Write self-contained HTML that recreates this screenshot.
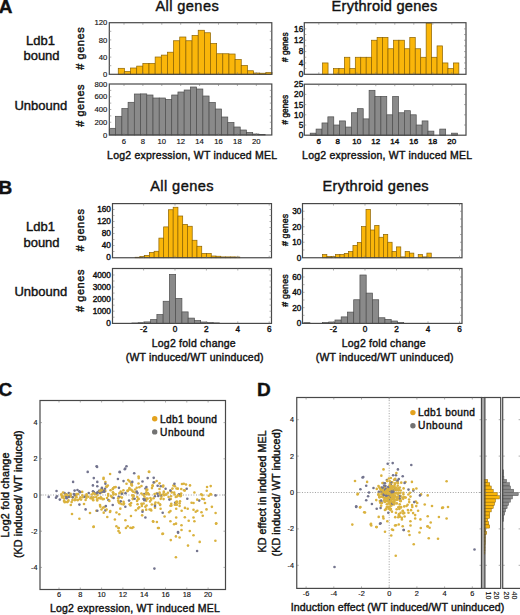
<!DOCTYPE html>
<html><head><meta charset="utf-8"><style>
html,body{margin:0;padding:0;background:#fff;}
body{width:520px;height:615px;overflow:hidden;}
svg{display:block;font-family:"Liberation Sans",sans-serif;}
text{fill:#111;stroke:#111;stroke-width:.4px;}
text.s{stroke-width:.15px;}
</style></head><body>
<svg width="520" height="615" viewBox="0 0 520 615">
<rect x="0" y="0" width="520" height="615" fill="#fff"/>
<text x="-1.2" y="12.6" font-size="19" font-weight="bold">A</text>
<text x="155.4" y="11" font-size="14.6" textLength="63.3" lengthAdjust="spacing">All genes</text>
<text x="331.6" y="11.1" font-size="14.6" textLength="105.6" lengthAdjust="spacing">Erythroid genes</text>
<text x="40.5" y="44.5" font-size="13" text-anchor="middle">Ldb1</text>
<text x="41.5" y="60" font-size="13" text-anchor="middle">bound</text>
<text x="40.8" y="109.5" font-size="13" text-anchor="middle">Unbound</text>
<rect x="118.25" y="68.3" width="6.15" height="6" fill="#fab60a" stroke="#8a6200" stroke-width="0.7"/>
<rect x="124.4" y="71.5" width="6.15" height="2.8" fill="#fab60a" stroke="#8a6200" stroke-width="0.7"/>
<rect x="130.55" y="68" width="6.15" height="6.3" fill="#fab60a" stroke="#8a6200" stroke-width="0.7"/>
<rect x="136.7" y="66.1" width="6.15" height="8.2" fill="#fab60a" stroke="#8a6200" stroke-width="0.7"/>
<rect x="142.85" y="63.5" width="6.15" height="10.8" fill="#fab60a" stroke="#8a6200" stroke-width="0.7"/>
<rect x="149" y="63.5" width="6.15" height="10.8" fill="#fab60a" stroke="#8a6200" stroke-width="0.7"/>
<rect x="155.15" y="57" width="6.15" height="17.3" fill="#fab60a" stroke="#8a6200" stroke-width="0.7"/>
<rect x="161.3" y="55.1" width="6.15" height="19.2" fill="#fab60a" stroke="#8a6200" stroke-width="0.7"/>
<rect x="167.45" y="52.2" width="6.15" height="22.1" fill="#fab60a" stroke="#8a6200" stroke-width="0.7"/>
<rect x="173.6" y="40.75" width="6.15" height="33.55" fill="#fab60a" stroke="#8a6200" stroke-width="0.7"/>
<rect x="179.75" y="37" width="6.15" height="37.3" fill="#fab60a" stroke="#8a6200" stroke-width="0.7"/>
<rect x="185.9" y="40.75" width="6.15" height="33.55" fill="#fab60a" stroke="#8a6200" stroke-width="0.7"/>
<rect x="192.05" y="35.5" width="6.15" height="38.8" fill="#fab60a" stroke="#8a6200" stroke-width="0.7"/>
<rect x="198.2" y="30.25" width="6.15" height="44.05" fill="#fab60a" stroke="#8a6200" stroke-width="0.7"/>
<rect x="204.35" y="32.75" width="6.15" height="41.55" fill="#fab60a" stroke="#8a6200" stroke-width="0.7"/>
<rect x="210.5" y="43.5" width="6.15" height="30.8" fill="#fab60a" stroke="#8a6200" stroke-width="0.7"/>
<rect x="216.65" y="53.75" width="6.15" height="20.55" fill="#fab60a" stroke="#8a6200" stroke-width="0.7"/>
<rect x="222.8" y="53.75" width="6.15" height="20.55" fill="#fab60a" stroke="#8a6200" stroke-width="0.7"/>
<rect x="228.95" y="54" width="6.15" height="20.3" fill="#fab60a" stroke="#8a6200" stroke-width="0.7"/>
<rect x="235.1" y="59.5" width="6.15" height="14.8" fill="#fab60a" stroke="#8a6200" stroke-width="0.7"/>
<rect x="241.25" y="65.5" width="6.15" height="8.8" fill="#fab60a" stroke="#8a6200" stroke-width="0.7"/>
<rect x="247.4" y="70.75" width="6.15" height="3.55" fill="#fab60a" stroke="#8a6200" stroke-width="0.7"/>
<rect x="253.55" y="73" width="6.15" height="1.3" fill="#fab60a" stroke="#8a6200" stroke-width="0.7"/>
<rect x="259.7" y="73.2" width="6.15" height="1.1" fill="#fab60a" stroke="#8a6200" stroke-width="0.7"/>
<rect x="265.85" y="72.6" width="6.15" height="1.7" fill="#fab60a" stroke="#8a6200" stroke-width="0.7"/>
<rect x="109.3" y="22.7" width="162.5" height="51.6" fill="none" stroke="#484848" stroke-width="1.2"/>
<line x1="124" y1="22.7" x2="124" y2="24.7" stroke="#777" stroke-width="0.6"/>
<line x1="124" y1="74.3" x2="124" y2="72.3" stroke="#777" stroke-width="0.6"/>
<line x1="142.9" y1="22.7" x2="142.9" y2="24.7" stroke="#777" stroke-width="0.6"/>
<line x1="142.9" y1="74.3" x2="142.9" y2="72.3" stroke="#777" stroke-width="0.6"/>
<line x1="161.8" y1="22.7" x2="161.8" y2="24.7" stroke="#777" stroke-width="0.6"/>
<line x1="161.8" y1="74.3" x2="161.8" y2="72.3" stroke="#777" stroke-width="0.6"/>
<line x1="180.7" y1="22.7" x2="180.7" y2="24.7" stroke="#777" stroke-width="0.6"/>
<line x1="180.7" y1="74.3" x2="180.7" y2="72.3" stroke="#777" stroke-width="0.6"/>
<line x1="199.6" y1="22.7" x2="199.6" y2="24.7" stroke="#777" stroke-width="0.6"/>
<line x1="199.6" y1="74.3" x2="199.6" y2="72.3" stroke="#777" stroke-width="0.6"/>
<line x1="218.5" y1="22.7" x2="218.5" y2="24.7" stroke="#777" stroke-width="0.6"/>
<line x1="218.5" y1="74.3" x2="218.5" y2="72.3" stroke="#777" stroke-width="0.6"/>
<line x1="237.4" y1="22.7" x2="237.4" y2="24.7" stroke="#777" stroke-width="0.6"/>
<line x1="237.4" y1="74.3" x2="237.4" y2="72.3" stroke="#777" stroke-width="0.6"/>
<line x1="256.3" y1="22.7" x2="256.3" y2="24.7" stroke="#777" stroke-width="0.6"/>
<line x1="256.3" y1="74.3" x2="256.3" y2="72.3" stroke="#777" stroke-width="0.6"/>
<line x1="109.3" y1="65.7" x2="111.3" y2="65.7" stroke="#777" stroke-width="0.6"/>
<line x1="271.8" y1="65.7" x2="269.8" y2="65.7" stroke="#777" stroke-width="0.6"/>
<line x1="109.3" y1="57.1" x2="111.3" y2="57.1" stroke="#777" stroke-width="0.6"/>
<line x1="271.8" y1="57.1" x2="269.8" y2="57.1" stroke="#777" stroke-width="0.6"/>
<line x1="109.3" y1="48.5" x2="111.3" y2="48.5" stroke="#777" stroke-width="0.6"/>
<line x1="271.8" y1="48.5" x2="269.8" y2="48.5" stroke="#777" stroke-width="0.6"/>
<line x1="109.3" y1="39.9" x2="111.3" y2="39.9" stroke="#777" stroke-width="0.6"/>
<line x1="271.8" y1="39.9" x2="269.8" y2="39.9" stroke="#777" stroke-width="0.6"/>
<line x1="109.3" y1="31.3" x2="111.3" y2="31.3" stroke="#777" stroke-width="0.6"/>
<line x1="271.8" y1="31.3" x2="269.8" y2="31.3" stroke="#777" stroke-width="0.6"/>
<text x="107.3" y="77" font-size="7.7" text-anchor="end" class="s">0</text>
<text x="107.3" y="59.8" font-size="7.7" text-anchor="end" class="s">40</text>
<text x="107.3" y="42.6" font-size="7.7" text-anchor="end" class="s">80</text>
<text x="107.3" y="25.4" font-size="7.7" text-anchor="end" class="s">120</text>
<text x="83.8" y="48.55" font-size="11" text-anchor="middle" textLength="42.4" lengthAdjust="spacing" transform="rotate(-90 83.8 48.55)"># genes</text>
<rect x="109.4" y="128.3" width="6.23" height="6.7" fill="#8a8a8a" stroke="#4e4e4e" stroke-width="0.7"/>
<rect x="115.63" y="116.3" width="6.23" height="18.7" fill="#8a8a8a" stroke="#4e4e4e" stroke-width="0.7"/>
<rect x="121.86" y="108.6" width="6.23" height="26.4" fill="#8a8a8a" stroke="#4e4e4e" stroke-width="0.7"/>
<rect x="128.09" y="102.3" width="6.23" height="32.7" fill="#8a8a8a" stroke="#4e4e4e" stroke-width="0.7"/>
<rect x="134.32" y="94" width="6.23" height="41" fill="#8a8a8a" stroke="#4e4e4e" stroke-width="0.7"/>
<rect x="140.55" y="93.9" width="6.23" height="41.1" fill="#8a8a8a" stroke="#4e4e4e" stroke-width="0.7"/>
<rect x="146.78" y="95" width="6.23" height="40" fill="#8a8a8a" stroke="#4e4e4e" stroke-width="0.7"/>
<rect x="153.01" y="98" width="6.23" height="37" fill="#8a8a8a" stroke="#4e4e4e" stroke-width="0.7"/>
<rect x="159.24" y="98" width="6.23" height="37" fill="#8a8a8a" stroke="#4e4e4e" stroke-width="0.7"/>
<rect x="165.47" y="99.5" width="6.23" height="35.5" fill="#8a8a8a" stroke="#4e4e4e" stroke-width="0.7"/>
<rect x="171.7" y="95" width="6.23" height="40" fill="#8a8a8a" stroke="#4e4e4e" stroke-width="0.7"/>
<rect x="177.93" y="92" width="6.23" height="43" fill="#8a8a8a" stroke="#4e4e4e" stroke-width="0.7"/>
<rect x="184.16" y="90" width="6.23" height="45" fill="#8a8a8a" stroke="#4e4e4e" stroke-width="0.7"/>
<rect x="190.39" y="87" width="6.23" height="48" fill="#8a8a8a" stroke="#4e4e4e" stroke-width="0.7"/>
<rect x="196.62" y="89" width="6.23" height="46" fill="#8a8a8a" stroke="#4e4e4e" stroke-width="0.7"/>
<rect x="202.85" y="96" width="6.23" height="39" fill="#8a8a8a" stroke="#4e4e4e" stroke-width="0.7"/>
<rect x="209.08" y="102.5" width="6.23" height="32.5" fill="#8a8a8a" stroke="#4e4e4e" stroke-width="0.7"/>
<rect x="215.31" y="109" width="6.23" height="26" fill="#8a8a8a" stroke="#4e4e4e" stroke-width="0.7"/>
<rect x="221.54" y="117" width="6.23" height="18" fill="#8a8a8a" stroke="#4e4e4e" stroke-width="0.7"/>
<rect x="227.77" y="122.5" width="6.23" height="12.5" fill="#8a8a8a" stroke="#4e4e4e" stroke-width="0.7"/>
<rect x="234" y="127" width="6.23" height="8" fill="#8a8a8a" stroke="#4e4e4e" stroke-width="0.7"/>
<rect x="240.23" y="130" width="6.23" height="5" fill="#8a8a8a" stroke="#4e4e4e" stroke-width="0.7"/>
<rect x="246.46" y="132.5" width="6.23" height="2.5" fill="#8a8a8a" stroke="#4e4e4e" stroke-width="0.7"/>
<rect x="252.69" y="134" width="6.23" height="1" fill="#8a8a8a" stroke="#4e4e4e" stroke-width="0.7"/>
<rect x="258.92" y="134.5" width="6.23" height="0.5" fill="#8a8a8a" stroke="#4e4e4e" stroke-width="0.7"/>
<rect x="109.3" y="84" width="162.5" height="51" fill="none" stroke="#484848" stroke-width="1.2"/>
<line x1="124" y1="84" x2="124" y2="86" stroke="#777" stroke-width="0.6"/>
<line x1="124" y1="135" x2="124" y2="133" stroke="#777" stroke-width="0.6"/>
<line x1="142.9" y1="84" x2="142.9" y2="86" stroke="#777" stroke-width="0.6"/>
<line x1="142.9" y1="135" x2="142.9" y2="133" stroke="#777" stroke-width="0.6"/>
<line x1="161.8" y1="84" x2="161.8" y2="86" stroke="#777" stroke-width="0.6"/>
<line x1="161.8" y1="135" x2="161.8" y2="133" stroke="#777" stroke-width="0.6"/>
<line x1="180.7" y1="84" x2="180.7" y2="86" stroke="#777" stroke-width="0.6"/>
<line x1="180.7" y1="135" x2="180.7" y2="133" stroke="#777" stroke-width="0.6"/>
<line x1="199.6" y1="84" x2="199.6" y2="86" stroke="#777" stroke-width="0.6"/>
<line x1="199.6" y1="135" x2="199.6" y2="133" stroke="#777" stroke-width="0.6"/>
<line x1="218.5" y1="84" x2="218.5" y2="86" stroke="#777" stroke-width="0.6"/>
<line x1="218.5" y1="135" x2="218.5" y2="133" stroke="#777" stroke-width="0.6"/>
<line x1="237.4" y1="84" x2="237.4" y2="86" stroke="#777" stroke-width="0.6"/>
<line x1="237.4" y1="135" x2="237.4" y2="133" stroke="#777" stroke-width="0.6"/>
<line x1="256.3" y1="84" x2="256.3" y2="86" stroke="#777" stroke-width="0.6"/>
<line x1="256.3" y1="135" x2="256.3" y2="133" stroke="#777" stroke-width="0.6"/>
<line x1="109.3" y1="128.62" x2="111.3" y2="128.62" stroke="#777" stroke-width="0.6"/>
<line x1="271.8" y1="128.62" x2="269.8" y2="128.62" stroke="#777" stroke-width="0.6"/>
<line x1="109.3" y1="122.25" x2="111.3" y2="122.25" stroke="#777" stroke-width="0.6"/>
<line x1="271.8" y1="122.25" x2="269.8" y2="122.25" stroke="#777" stroke-width="0.6"/>
<line x1="109.3" y1="115.88" x2="111.3" y2="115.88" stroke="#777" stroke-width="0.6"/>
<line x1="271.8" y1="115.88" x2="269.8" y2="115.88" stroke="#777" stroke-width="0.6"/>
<line x1="109.3" y1="109.5" x2="111.3" y2="109.5" stroke="#777" stroke-width="0.6"/>
<line x1="271.8" y1="109.5" x2="269.8" y2="109.5" stroke="#777" stroke-width="0.6"/>
<line x1="109.3" y1="103.12" x2="111.3" y2="103.12" stroke="#777" stroke-width="0.6"/>
<line x1="271.8" y1="103.12" x2="269.8" y2="103.12" stroke="#777" stroke-width="0.6"/>
<line x1="109.3" y1="96.75" x2="111.3" y2="96.75" stroke="#777" stroke-width="0.6"/>
<line x1="271.8" y1="96.75" x2="269.8" y2="96.75" stroke="#777" stroke-width="0.6"/>
<line x1="109.3" y1="90.38" x2="111.3" y2="90.38" stroke="#777" stroke-width="0.6"/>
<line x1="271.8" y1="90.38" x2="269.8" y2="90.38" stroke="#777" stroke-width="0.6"/>
<text x="107.3" y="137.7" font-size="7.7" text-anchor="end" class="s">0</text>
<text x="107.3" y="124.95" font-size="7.7" text-anchor="end" class="s">200</text>
<text x="107.3" y="112.2" font-size="7.7" text-anchor="end" class="s">400</text>
<text x="107.3" y="99.45" font-size="7.7" text-anchor="end" class="s">600</text>
<text x="107.3" y="86.7" font-size="7.7" text-anchor="end" class="s">800</text>
<text x="83.8" y="105.6" font-size="11" text-anchor="middle" textLength="42.4" lengthAdjust="spacing" transform="rotate(-90 83.8 105.6)"># genes</text>
<text x="124" y="143.7" font-size="7.7" text-anchor="middle" class="s">6</text>
<text x="142.9" y="143.7" font-size="7.7" text-anchor="middle" class="s">8</text>
<text x="161.8" y="143.7" font-size="7.7" text-anchor="middle" class="s">10</text>
<text x="180.7" y="143.7" font-size="7.7" text-anchor="middle" class="s">12</text>
<text x="199.6" y="143.7" font-size="7.7" text-anchor="middle" class="s">14</text>
<text x="218.5" y="143.7" font-size="7.7" text-anchor="middle" class="s">16</text>
<text x="237.4" y="143.7" font-size="7.7" text-anchor="middle" class="s">18</text>
<text x="256.3" y="143.7" font-size="7.7" text-anchor="middle" class="s">20</text>
<text x="107.1" y="158.5" font-size="10.5" textLength="170" lengthAdjust="spacing">Log2 expression, WT induced MEL</text>
<rect x="322.6" y="62.94" width="5.45" height="11.36" fill="#fab60a" stroke="#8a6200" stroke-width="0.7"/>
<rect x="333.5" y="68.62" width="5.45" height="5.68" fill="#fab60a" stroke="#8a6200" stroke-width="0.7"/>
<rect x="338.95" y="68.62" width="5.45" height="5.68" fill="#fab60a" stroke="#8a6200" stroke-width="0.7"/>
<rect x="344.4" y="57.26" width="5.45" height="17.04" fill="#fab60a" stroke="#8a6200" stroke-width="0.7"/>
<rect x="349.85" y="68.62" width="5.45" height="5.68" fill="#fab60a" stroke="#8a6200" stroke-width="0.7"/>
<rect x="355.3" y="57.26" width="5.45" height="17.04" fill="#fab60a" stroke="#8a6200" stroke-width="0.7"/>
<rect x="360.75" y="57.26" width="5.45" height="17.04" fill="#fab60a" stroke="#8a6200" stroke-width="0.7"/>
<rect x="366.2" y="57.26" width="5.45" height="17.04" fill="#fab60a" stroke="#8a6200" stroke-width="0.7"/>
<rect x="371.65" y="40.22" width="5.45" height="34.08" fill="#fab60a" stroke="#8a6200" stroke-width="0.7"/>
<rect x="377.1" y="37.38" width="5.45" height="36.92" fill="#fab60a" stroke="#8a6200" stroke-width="0.7"/>
<rect x="382.55" y="37.38" width="5.45" height="36.92" fill="#fab60a" stroke="#8a6200" stroke-width="0.7"/>
<rect x="388" y="48.74" width="5.45" height="25.56" fill="#fab60a" stroke="#8a6200" stroke-width="0.7"/>
<rect x="393.45" y="40.22" width="5.45" height="34.08" fill="#fab60a" stroke="#8a6200" stroke-width="0.7"/>
<rect x="398.9" y="40.22" width="5.45" height="34.08" fill="#fab60a" stroke="#8a6200" stroke-width="0.7"/>
<rect x="404.35" y="48.74" width="5.45" height="25.56" fill="#fab60a" stroke="#8a6200" stroke-width="0.7"/>
<rect x="409.8" y="37.38" width="5.45" height="36.92" fill="#fab60a" stroke="#8a6200" stroke-width="0.7"/>
<rect x="415.25" y="48.74" width="5.45" height="25.56" fill="#fab60a" stroke="#8a6200" stroke-width="0.7"/>
<rect x="420.7" y="57.26" width="5.45" height="17.04" fill="#fab60a" stroke="#8a6200" stroke-width="0.7"/>
<rect x="426.15" y="23.18" width="5.45" height="51.12" fill="#fab60a" stroke="#8a6200" stroke-width="0.7"/>
<rect x="431.6" y="57.26" width="5.45" height="17.04" fill="#fab60a" stroke="#8a6200" stroke-width="0.7"/>
<rect x="437.05" y="45.9" width="5.45" height="28.4" fill="#fab60a" stroke="#8a6200" stroke-width="0.7"/>
<rect x="442.5" y="62.94" width="5.45" height="11.36" fill="#fab60a" stroke="#8a6200" stroke-width="0.7"/>
<rect x="447.95" y="68.62" width="5.45" height="5.68" fill="#fab60a" stroke="#8a6200" stroke-width="0.7"/>
<rect x="453.4" y="62.94" width="5.45" height="11.36" fill="#fab60a" stroke="#8a6200" stroke-width="0.7"/>
<rect x="304.3" y="22.7" width="161.7" height="51.6" fill="none" stroke="#484848" stroke-width="1.2"/>
<line x1="318.8" y1="22.7" x2="318.8" y2="24.7" stroke="#777" stroke-width="0.6"/>
<line x1="318.8" y1="74.3" x2="318.8" y2="72.3" stroke="#777" stroke-width="0.6"/>
<line x1="337.8" y1="22.7" x2="337.8" y2="24.7" stroke="#777" stroke-width="0.6"/>
<line x1="337.8" y1="74.3" x2="337.8" y2="72.3" stroke="#777" stroke-width="0.6"/>
<line x1="356.8" y1="22.7" x2="356.8" y2="24.7" stroke="#777" stroke-width="0.6"/>
<line x1="356.8" y1="74.3" x2="356.8" y2="72.3" stroke="#777" stroke-width="0.6"/>
<line x1="375.8" y1="22.7" x2="375.8" y2="24.7" stroke="#777" stroke-width="0.6"/>
<line x1="375.8" y1="74.3" x2="375.8" y2="72.3" stroke="#777" stroke-width="0.6"/>
<line x1="394.8" y1="22.7" x2="394.8" y2="24.7" stroke="#777" stroke-width="0.6"/>
<line x1="394.8" y1="74.3" x2="394.8" y2="72.3" stroke="#777" stroke-width="0.6"/>
<line x1="413.8" y1="22.7" x2="413.8" y2="24.7" stroke="#777" stroke-width="0.6"/>
<line x1="413.8" y1="74.3" x2="413.8" y2="72.3" stroke="#777" stroke-width="0.6"/>
<line x1="432.8" y1="22.7" x2="432.8" y2="24.7" stroke="#777" stroke-width="0.6"/>
<line x1="432.8" y1="74.3" x2="432.8" y2="72.3" stroke="#777" stroke-width="0.6"/>
<line x1="451.8" y1="22.7" x2="451.8" y2="24.7" stroke="#777" stroke-width="0.6"/>
<line x1="451.8" y1="74.3" x2="451.8" y2="72.3" stroke="#777" stroke-width="0.6"/>
<line x1="304.3" y1="68.62" x2="306.3" y2="68.62" stroke="#777" stroke-width="0.6"/>
<line x1="466" y1="68.62" x2="464" y2="68.62" stroke="#777" stroke-width="0.6"/>
<line x1="304.3" y1="62.94" x2="306.3" y2="62.94" stroke="#777" stroke-width="0.6"/>
<line x1="466" y1="62.94" x2="464" y2="62.94" stroke="#777" stroke-width="0.6"/>
<line x1="304.3" y1="57.26" x2="306.3" y2="57.26" stroke="#777" stroke-width="0.6"/>
<line x1="466" y1="57.26" x2="464" y2="57.26" stroke="#777" stroke-width="0.6"/>
<line x1="304.3" y1="51.58" x2="306.3" y2="51.58" stroke="#777" stroke-width="0.6"/>
<line x1="466" y1="51.58" x2="464" y2="51.58" stroke="#777" stroke-width="0.6"/>
<line x1="304.3" y1="45.9" x2="306.3" y2="45.9" stroke="#777" stroke-width="0.6"/>
<line x1="466" y1="45.9" x2="464" y2="45.9" stroke="#777" stroke-width="0.6"/>
<line x1="304.3" y1="40.22" x2="306.3" y2="40.22" stroke="#777" stroke-width="0.6"/>
<line x1="466" y1="40.22" x2="464" y2="40.22" stroke="#777" stroke-width="0.6"/>
<line x1="304.3" y1="34.54" x2="306.3" y2="34.54" stroke="#777" stroke-width="0.6"/>
<line x1="466" y1="34.54" x2="464" y2="34.54" stroke="#777" stroke-width="0.6"/>
<line x1="304.3" y1="28.86" x2="306.3" y2="28.86" stroke="#777" stroke-width="0.6"/>
<line x1="466" y1="28.86" x2="464" y2="28.86" stroke="#777" stroke-width="0.6"/>
<text x="303.2" y="77.2" font-size="8.2" text-anchor="end">0</text>
<text x="303.2" y="65.84" font-size="8.2" text-anchor="end">4</text>
<text x="303.2" y="54.48" font-size="8.2" text-anchor="end">8</text>
<text x="303.2" y="43.12" font-size="8.2" text-anchor="end">12</text>
<text x="303.2" y="31.76" font-size="8.2" text-anchor="end">16</text>
<text x="288" y="47.2" font-size="8.2" text-anchor="middle" textLength="29.6" lengthAdjust="spacing" transform="rotate(-90 288 47.2)"># genes</text>
<rect x="310.2" y="133.16" width="5.89" height="2.04" fill="#8a8a8a" stroke="#4e4e4e" stroke-width="0.7"/>
<rect x="316.09" y="129.08" width="5.89" height="6.12" fill="#8a8a8a" stroke="#4e4e4e" stroke-width="0.7"/>
<rect x="321.98" y="122.96" width="5.89" height="12.24" fill="#8a8a8a" stroke="#4e4e4e" stroke-width="0.7"/>
<rect x="327.87" y="116.84" width="5.89" height="18.36" fill="#8a8a8a" stroke="#4e4e4e" stroke-width="0.7"/>
<rect x="333.76" y="125" width="5.89" height="10.2" fill="#8a8a8a" stroke="#4e4e4e" stroke-width="0.7"/>
<rect x="339.65" y="120.92" width="5.89" height="14.28" fill="#8a8a8a" stroke="#4e4e4e" stroke-width="0.7"/>
<rect x="345.54" y="127.04" width="5.89" height="8.16" fill="#8a8a8a" stroke="#4e4e4e" stroke-width="0.7"/>
<rect x="351.43" y="112.76" width="5.89" height="22.44" fill="#8a8a8a" stroke="#4e4e4e" stroke-width="0.7"/>
<rect x="357.32" y="108.68" width="5.89" height="26.52" fill="#8a8a8a" stroke="#4e4e4e" stroke-width="0.7"/>
<rect x="363.21" y="118.88" width="5.89" height="16.32" fill="#8a8a8a" stroke="#4e4e4e" stroke-width="0.7"/>
<rect x="369.1" y="90.32" width="5.89" height="44.88" fill="#8a8a8a" stroke="#4e4e4e" stroke-width="0.7"/>
<rect x="374.99" y="96.44" width="5.89" height="38.76" fill="#8a8a8a" stroke="#4e4e4e" stroke-width="0.7"/>
<rect x="380.88" y="96.44" width="5.89" height="38.76" fill="#8a8a8a" stroke="#4e4e4e" stroke-width="0.7"/>
<rect x="386.77" y="114.8" width="5.89" height="20.4" fill="#8a8a8a" stroke="#4e4e4e" stroke-width="0.7"/>
<rect x="392.66" y="96.44" width="5.89" height="38.76" fill="#8a8a8a" stroke="#4e4e4e" stroke-width="0.7"/>
<rect x="398.55" y="112.76" width="5.89" height="22.44" fill="#8a8a8a" stroke="#4e4e4e" stroke-width="0.7"/>
<rect x="404.44" y="110.72" width="5.89" height="24.48" fill="#8a8a8a" stroke="#4e4e4e" stroke-width="0.7"/>
<rect x="410.33" y="114.8" width="5.89" height="20.4" fill="#8a8a8a" stroke="#4e4e4e" stroke-width="0.7"/>
<rect x="416.22" y="125" width="5.89" height="10.2" fill="#8a8a8a" stroke="#4e4e4e" stroke-width="0.7"/>
<rect x="422.11" y="120.92" width="5.89" height="14.28" fill="#8a8a8a" stroke="#4e4e4e" stroke-width="0.7"/>
<rect x="428" y="131.12" width="5.89" height="4.08" fill="#8a8a8a" stroke="#4e4e4e" stroke-width="0.7"/>
<rect x="439.78" y="129.08" width="5.89" height="6.12" fill="#8a8a8a" stroke="#4e4e4e" stroke-width="0.7"/>
<rect x="451.56" y="133.16" width="5.89" height="2.04" fill="#8a8a8a" stroke="#4e4e4e" stroke-width="0.7"/>
<rect x="304.3" y="84.2" width="161.7" height="51" fill="none" stroke="#484848" stroke-width="1.2"/>
<line x1="318.8" y1="84.2" x2="318.8" y2="86.2" stroke="#777" stroke-width="0.6"/>
<line x1="318.8" y1="135.2" x2="318.8" y2="133.2" stroke="#777" stroke-width="0.6"/>
<line x1="337.8" y1="84.2" x2="337.8" y2="86.2" stroke="#777" stroke-width="0.6"/>
<line x1="337.8" y1="135.2" x2="337.8" y2="133.2" stroke="#777" stroke-width="0.6"/>
<line x1="356.8" y1="84.2" x2="356.8" y2="86.2" stroke="#777" stroke-width="0.6"/>
<line x1="356.8" y1="135.2" x2="356.8" y2="133.2" stroke="#777" stroke-width="0.6"/>
<line x1="375.8" y1="84.2" x2="375.8" y2="86.2" stroke="#777" stroke-width="0.6"/>
<line x1="375.8" y1="135.2" x2="375.8" y2="133.2" stroke="#777" stroke-width="0.6"/>
<line x1="394.8" y1="84.2" x2="394.8" y2="86.2" stroke="#777" stroke-width="0.6"/>
<line x1="394.8" y1="135.2" x2="394.8" y2="133.2" stroke="#777" stroke-width="0.6"/>
<line x1="413.8" y1="84.2" x2="413.8" y2="86.2" stroke="#777" stroke-width="0.6"/>
<line x1="413.8" y1="135.2" x2="413.8" y2="133.2" stroke="#777" stroke-width="0.6"/>
<line x1="432.8" y1="84.2" x2="432.8" y2="86.2" stroke="#777" stroke-width="0.6"/>
<line x1="432.8" y1="135.2" x2="432.8" y2="133.2" stroke="#777" stroke-width="0.6"/>
<line x1="451.8" y1="84.2" x2="451.8" y2="86.2" stroke="#777" stroke-width="0.6"/>
<line x1="451.8" y1="135.2" x2="451.8" y2="133.2" stroke="#777" stroke-width="0.6"/>
<line x1="304.3" y1="125" x2="306.3" y2="125" stroke="#777" stroke-width="0.6"/>
<line x1="466" y1="125" x2="464" y2="125" stroke="#777" stroke-width="0.6"/>
<line x1="304.3" y1="114.8" x2="306.3" y2="114.8" stroke="#777" stroke-width="0.6"/>
<line x1="466" y1="114.8" x2="464" y2="114.8" stroke="#777" stroke-width="0.6"/>
<line x1="304.3" y1="104.6" x2="306.3" y2="104.6" stroke="#777" stroke-width="0.6"/>
<line x1="466" y1="104.6" x2="464" y2="104.6" stroke="#777" stroke-width="0.6"/>
<line x1="304.3" y1="94.4" x2="306.3" y2="94.4" stroke="#777" stroke-width="0.6"/>
<line x1="466" y1="94.4" x2="464" y2="94.4" stroke="#777" stroke-width="0.6"/>
<text x="303.2" y="138.1" font-size="8.2" text-anchor="end">0</text>
<text x="303.2" y="127.9" font-size="8.2" text-anchor="end">5</text>
<text x="303.2" y="117.7" font-size="8.2" text-anchor="end">10</text>
<text x="303.2" y="107.5" font-size="8.2" text-anchor="end">15</text>
<text x="303.2" y="97.3" font-size="8.2" text-anchor="end">20</text>
<text x="303.2" y="87.1" font-size="8.2" text-anchor="end">25</text>
<text x="288" y="109.75" font-size="8.2" text-anchor="middle" textLength="29.6" lengthAdjust="spacing" transform="rotate(-90 288 109.75)"># genes</text>
<text x="318.8" y="143.7" font-size="8" text-anchor="middle">6</text>
<text x="337.8" y="143.7" font-size="8" text-anchor="middle">8</text>
<text x="356.8" y="143.7" font-size="8" text-anchor="middle">10</text>
<text x="375.8" y="143.7" font-size="8" text-anchor="middle">12</text>
<text x="394.8" y="143.7" font-size="8" text-anchor="middle">14</text>
<text x="413.8" y="143.7" font-size="8" text-anchor="middle">16</text>
<text x="432.8" y="143.7" font-size="8" text-anchor="middle">18</text>
<text x="451.8" y="143.7" font-size="8" text-anchor="middle">20</text>
<text x="302.1" y="158.5" font-size="10.5" textLength="170" lengthAdjust="spacing">Log2 expression, WT induced MEL</text>
<text x="-1.6" y="194.4" font-size="19" font-weight="bold">B</text>
<text x="150.2" y="191.4" font-size="14.6" textLength="63.3" lengthAdjust="spacing">All genes</text>
<text x="322.6" y="191.4" font-size="14.6" textLength="106" lengthAdjust="spacing">Erythroid genes</text>
<text x="40.5" y="231.2" font-size="13" text-anchor="middle">Ldb1</text>
<text x="41.5" y="246.8" font-size="13" text-anchor="middle">bound</text>
<text x="40.8" y="296.25" font-size="13" text-anchor="middle">Unbound</text>
<rect x="135.1" y="257.25" width="4.76" height="0.5" fill="#fab60a" stroke="#8a6200" stroke-width="0.7"/>
<rect x="139.86" y="256.5" width="4.76" height="1.25" fill="#fab60a" stroke="#8a6200" stroke-width="0.7"/>
<rect x="144.62" y="255.4" width="4.76" height="2.35" fill="#fab60a" stroke="#8a6200" stroke-width="0.7"/>
<rect x="149.38" y="252.5" width="4.76" height="5.25" fill="#fab60a" stroke="#8a6200" stroke-width="0.7"/>
<rect x="154.14" y="251.25" width="4.76" height="6.5" fill="#fab60a" stroke="#8a6200" stroke-width="0.7"/>
<rect x="158.9" y="238.1" width="4.76" height="19.65" fill="#fab60a" stroke="#8a6200" stroke-width="0.7"/>
<rect x="163.66" y="226.9" width="4.76" height="30.85" fill="#fab60a" stroke="#8a6200" stroke-width="0.7"/>
<rect x="168.42" y="209.75" width="4.76" height="48" fill="#fab60a" stroke="#8a6200" stroke-width="0.7"/>
<rect x="173.18" y="207.25" width="4.76" height="50.5" fill="#fab60a" stroke="#8a6200" stroke-width="0.7"/>
<rect x="177.94" y="216" width="4.76" height="41.75" fill="#fab60a" stroke="#8a6200" stroke-width="0.7"/>
<rect x="182.7" y="224.4" width="4.76" height="33.35" fill="#fab60a" stroke="#8a6200" stroke-width="0.7"/>
<rect x="187.46" y="226.25" width="4.76" height="31.5" fill="#fab60a" stroke="#8a6200" stroke-width="0.7"/>
<rect x="192.22" y="240.25" width="4.76" height="17.5" fill="#fab60a" stroke="#8a6200" stroke-width="0.7"/>
<rect x="196.98" y="246.25" width="4.76" height="11.5" fill="#fab60a" stroke="#8a6200" stroke-width="0.7"/>
<rect x="201.74" y="253.5" width="4.76" height="4.25" fill="#fab60a" stroke="#8a6200" stroke-width="0.7"/>
<rect x="206.5" y="253.5" width="4.76" height="4.25" fill="#fab60a" stroke="#8a6200" stroke-width="0.7"/>
<rect x="211.26" y="256" width="4.76" height="1.75" fill="#fab60a" stroke="#8a6200" stroke-width="0.7"/>
<rect x="216.02" y="256.25" width="4.76" height="1.5" fill="#fab60a" stroke="#8a6200" stroke-width="0.7"/>
<rect x="220.78" y="256.9" width="4.76" height="0.85" fill="#fab60a" stroke="#8a6200" stroke-width="0.7"/>
<rect x="225.54" y="256.9" width="4.76" height="0.85" fill="#fab60a" stroke="#8a6200" stroke-width="0.7"/>
<rect x="230.3" y="256.9" width="4.76" height="0.85" fill="#fab60a" stroke="#8a6200" stroke-width="0.7"/>
<rect x="235.06" y="257" width="4.76" height="0.75" fill="#fab60a" stroke="#8a6200" stroke-width="0.7"/>
<rect x="112.5" y="203.6" width="159" height="54.15" fill="none" stroke="#484848" stroke-width="1.2"/>
<line x1="143.6" y1="203.6" x2="143.6" y2="205.6" stroke="#777" stroke-width="0.6"/>
<line x1="143.6" y1="257.75" x2="143.6" y2="255.75" stroke="#777" stroke-width="0.6"/>
<line x1="175" y1="203.6" x2="175" y2="205.6" stroke="#777" stroke-width="0.6"/>
<line x1="175" y1="257.75" x2="175" y2="255.75" stroke="#777" stroke-width="0.6"/>
<line x1="206.4" y1="203.6" x2="206.4" y2="205.6" stroke="#777" stroke-width="0.6"/>
<line x1="206.4" y1="257.75" x2="206.4" y2="255.75" stroke="#777" stroke-width="0.6"/>
<line x1="237.8" y1="203.6" x2="237.8" y2="205.6" stroke="#777" stroke-width="0.6"/>
<line x1="237.8" y1="257.75" x2="237.8" y2="255.75" stroke="#777" stroke-width="0.6"/>
<line x1="269.2" y1="203.6" x2="269.2" y2="205.6" stroke="#777" stroke-width="0.6"/>
<line x1="269.2" y1="257.75" x2="269.2" y2="255.75" stroke="#777" stroke-width="0.6"/>
<line x1="112.5" y1="251.5" x2="114.5" y2="251.5" stroke="#777" stroke-width="0.6"/>
<line x1="271.5" y1="251.5" x2="269.5" y2="251.5" stroke="#777" stroke-width="0.6"/>
<line x1="112.5" y1="245.5" x2="114.5" y2="245.5" stroke="#777" stroke-width="0.6"/>
<line x1="271.5" y1="245.5" x2="269.5" y2="245.5" stroke="#777" stroke-width="0.6"/>
<line x1="112.5" y1="239.5" x2="114.5" y2="239.5" stroke="#777" stroke-width="0.6"/>
<line x1="271.5" y1="239.5" x2="269.5" y2="239.5" stroke="#777" stroke-width="0.6"/>
<line x1="112.5" y1="233.5" x2="114.5" y2="233.5" stroke="#777" stroke-width="0.6"/>
<line x1="271.5" y1="233.5" x2="269.5" y2="233.5" stroke="#777" stroke-width="0.6"/>
<line x1="112.5" y1="227.5" x2="114.5" y2="227.5" stroke="#777" stroke-width="0.6"/>
<line x1="271.5" y1="227.5" x2="269.5" y2="227.5" stroke="#777" stroke-width="0.6"/>
<line x1="112.5" y1="221.5" x2="114.5" y2="221.5" stroke="#777" stroke-width="0.6"/>
<line x1="271.5" y1="221.5" x2="269.5" y2="221.5" stroke="#777" stroke-width="0.6"/>
<line x1="112.5" y1="215.5" x2="114.5" y2="215.5" stroke="#777" stroke-width="0.6"/>
<line x1="271.5" y1="215.5" x2="269.5" y2="215.5" stroke="#777" stroke-width="0.6"/>
<line x1="112.5" y1="209.5" x2="114.5" y2="209.5" stroke="#777" stroke-width="0.6"/>
<line x1="271.5" y1="209.5" x2="269.5" y2="209.5" stroke="#777" stroke-width="0.6"/>
<text x="110.9" y="260.4" font-size="8.2" text-anchor="end">0</text>
<text x="110.9" y="248.4" font-size="8.2" text-anchor="end">40</text>
<text x="110.9" y="236.4" font-size="8.2" text-anchor="end">80</text>
<text x="110.9" y="224.4" font-size="8.2" text-anchor="end">120</text>
<text x="110.9" y="212.4" font-size="8.2" text-anchor="end">160</text>
<text x="83.8" y="230.25" font-size="11" text-anchor="middle" textLength="42.4" lengthAdjust="spacing" transform="rotate(-90 83.8 230.25)"># genes</text>
<rect x="131.9" y="323" width="6.25" height="0.4" fill="#8a8a8a" stroke="#4e4e4e" stroke-width="0.7"/>
<rect x="138.15" y="322.7" width="6.25" height="0.7" fill="#8a8a8a" stroke="#4e4e4e" stroke-width="0.7"/>
<rect x="144.4" y="321.9" width="6.25" height="1.5" fill="#8a8a8a" stroke="#4e4e4e" stroke-width="0.7"/>
<rect x="150.65" y="319.6" width="6.25" height="3.8" fill="#8a8a8a" stroke="#4e4e4e" stroke-width="0.7"/>
<rect x="156.9" y="314.6" width="6.25" height="8.8" fill="#8a8a8a" stroke="#4e4e4e" stroke-width="0.7"/>
<rect x="163.15" y="301.25" width="6.25" height="22.15" fill="#8a8a8a" stroke="#4e4e4e" stroke-width="0.7"/>
<rect x="169.4" y="274.4" width="6.25" height="49" fill="#8a8a8a" stroke="#4e4e4e" stroke-width="0.7"/>
<rect x="175.65" y="298.4" width="6.25" height="25" fill="#8a8a8a" stroke="#4e4e4e" stroke-width="0.7"/>
<rect x="181.9" y="311.9" width="6.25" height="11.5" fill="#8a8a8a" stroke="#4e4e4e" stroke-width="0.7"/>
<rect x="188.15" y="318.1" width="6.25" height="5.3" fill="#8a8a8a" stroke="#4e4e4e" stroke-width="0.7"/>
<rect x="194.4" y="320.6" width="6.25" height="2.8" fill="#8a8a8a" stroke="#4e4e4e" stroke-width="0.7"/>
<rect x="200.65" y="322" width="6.25" height="1.4" fill="#8a8a8a" stroke="#4e4e4e" stroke-width="0.7"/>
<rect x="206.9" y="322.6" width="6.25" height="0.8" fill="#8a8a8a" stroke="#4e4e4e" stroke-width="0.7"/>
<rect x="213.15" y="322.9" width="6.25" height="0.5" fill="#8a8a8a" stroke="#4e4e4e" stroke-width="0.7"/>
<rect x="112.5" y="268.5" width="159" height="54.9" fill="none" stroke="#484848" stroke-width="1.2"/>
<line x1="143.6" y1="268.5" x2="143.6" y2="270.5" stroke="#777" stroke-width="0.6"/>
<line x1="143.6" y1="323.4" x2="143.6" y2="321.4" stroke="#777" stroke-width="0.6"/>
<line x1="175" y1="268.5" x2="175" y2="270.5" stroke="#777" stroke-width="0.6"/>
<line x1="175" y1="323.4" x2="175" y2="321.4" stroke="#777" stroke-width="0.6"/>
<line x1="206.4" y1="268.5" x2="206.4" y2="270.5" stroke="#777" stroke-width="0.6"/>
<line x1="206.4" y1="323.4" x2="206.4" y2="321.4" stroke="#777" stroke-width="0.6"/>
<line x1="237.8" y1="268.5" x2="237.8" y2="270.5" stroke="#777" stroke-width="0.6"/>
<line x1="237.8" y1="323.4" x2="237.8" y2="321.4" stroke="#777" stroke-width="0.6"/>
<line x1="269.2" y1="268.5" x2="269.2" y2="270.5" stroke="#777" stroke-width="0.6"/>
<line x1="269.2" y1="323.4" x2="269.2" y2="321.4" stroke="#777" stroke-width="0.6"/>
<line x1="112.5" y1="317.22" x2="114.5" y2="317.22" stroke="#777" stroke-width="0.6"/>
<line x1="271.5" y1="317.22" x2="269.5" y2="317.22" stroke="#777" stroke-width="0.6"/>
<line x1="112.5" y1="311.19" x2="114.5" y2="311.19" stroke="#777" stroke-width="0.6"/>
<line x1="271.5" y1="311.19" x2="269.5" y2="311.19" stroke="#777" stroke-width="0.6"/>
<line x1="112.5" y1="305.16" x2="114.5" y2="305.16" stroke="#777" stroke-width="0.6"/>
<line x1="271.5" y1="305.16" x2="269.5" y2="305.16" stroke="#777" stroke-width="0.6"/>
<line x1="112.5" y1="299.12" x2="114.5" y2="299.12" stroke="#777" stroke-width="0.6"/>
<line x1="271.5" y1="299.12" x2="269.5" y2="299.12" stroke="#777" stroke-width="0.6"/>
<line x1="112.5" y1="293.09" x2="114.5" y2="293.09" stroke="#777" stroke-width="0.6"/>
<line x1="271.5" y1="293.09" x2="269.5" y2="293.09" stroke="#777" stroke-width="0.6"/>
<line x1="112.5" y1="287.06" x2="114.5" y2="287.06" stroke="#777" stroke-width="0.6"/>
<line x1="271.5" y1="287.06" x2="269.5" y2="287.06" stroke="#777" stroke-width="0.6"/>
<line x1="112.5" y1="281.03" x2="114.5" y2="281.03" stroke="#777" stroke-width="0.6"/>
<line x1="271.5" y1="281.03" x2="269.5" y2="281.03" stroke="#777" stroke-width="0.6"/>
<line x1="112.5" y1="275" x2="114.5" y2="275" stroke="#777" stroke-width="0.6"/>
<line x1="271.5" y1="275" x2="269.5" y2="275" stroke="#777" stroke-width="0.6"/>
<text x="110.9" y="326.15" font-size="8.2" text-anchor="end">0</text>
<text x="110.9" y="314.09" font-size="8.2" text-anchor="end">1000</text>
<text x="110.9" y="302.02" font-size="8.2" text-anchor="end">2000</text>
<text x="110.9" y="289.96" font-size="8.2" text-anchor="end">3000</text>
<text x="110.9" y="277.9" font-size="8.2" text-anchor="end">4000</text>
<text x="83.8" y="290.8" font-size="11" text-anchor="middle" textLength="42.4" lengthAdjust="spacing" transform="rotate(-90 83.8 290.8)"># genes</text>
<text x="143.6" y="332.3" font-size="8.2" text-anchor="middle">-2</text>
<text x="175" y="332.3" font-size="8.2" text-anchor="middle">0</text>
<text x="206.4" y="332.3" font-size="8.2" text-anchor="middle">2</text>
<text x="237.8" y="332.3" font-size="8.2" text-anchor="middle">4</text>
<text x="269.2" y="332.3" font-size="8.2" text-anchor="middle">6</text>
<text x="151.7" y="347.4" font-size="10.5" textLength="84" lengthAdjust="spacing">Log2 fold change</text>
<text x="125.8" y="360.6" font-size="10.5" textLength="137.6" lengthAdjust="spacing">(WT induced/WT uninduced)</text>
<rect x="322.5" y="254.6" width="4.35" height="3.15" fill="#fab60a" stroke="#8a6200" stroke-width="0.7"/>
<rect x="326.85" y="256.5" width="4.35" height="1.25" fill="#fab60a" stroke="#8a6200" stroke-width="0.7"/>
<rect x="331.2" y="256.5" width="4.35" height="1.25" fill="#fab60a" stroke="#8a6200" stroke-width="0.7"/>
<rect x="335.55" y="254.6" width="4.35" height="3.15" fill="#fab60a" stroke="#8a6200" stroke-width="0.7"/>
<rect x="339.9" y="254.6" width="4.35" height="3.15" fill="#fab60a" stroke="#8a6200" stroke-width="0.7"/>
<rect x="344.25" y="253.4" width="4.35" height="4.35" fill="#fab60a" stroke="#8a6200" stroke-width="0.7"/>
<rect x="348.6" y="251.5" width="4.35" height="6.25" fill="#fab60a" stroke="#8a6200" stroke-width="0.7"/>
<rect x="352.95" y="245.4" width="4.35" height="12.35" fill="#fab60a" stroke="#8a6200" stroke-width="0.7"/>
<rect x="357.3" y="242.5" width="4.35" height="15.25" fill="#fab60a" stroke="#8a6200" stroke-width="0.7"/>
<rect x="361.65" y="226.6" width="4.35" height="31.15" fill="#fab60a" stroke="#8a6200" stroke-width="0.7"/>
<rect x="366" y="209.4" width="4.35" height="48.35" fill="#fab60a" stroke="#8a6200" stroke-width="0.7"/>
<rect x="370.35" y="230" width="4.35" height="27.75" fill="#fab60a" stroke="#8a6200" stroke-width="0.7"/>
<rect x="374.7" y="225.4" width="4.35" height="32.35" fill="#fab60a" stroke="#8a6200" stroke-width="0.7"/>
<rect x="379.05" y="237.25" width="4.35" height="20.5" fill="#fab60a" stroke="#8a6200" stroke-width="0.7"/>
<rect x="383.4" y="234.4" width="4.35" height="23.35" fill="#fab60a" stroke="#8a6200" stroke-width="0.7"/>
<rect x="387.75" y="242.25" width="4.35" height="15.5" fill="#fab60a" stroke="#8a6200" stroke-width="0.7"/>
<rect x="392.1" y="251.5" width="4.35" height="6.25" fill="#fab60a" stroke="#8a6200" stroke-width="0.7"/>
<rect x="396.45" y="246.9" width="4.35" height="10.85" fill="#fab60a" stroke="#8a6200" stroke-width="0.7"/>
<rect x="400.8" y="256.9" width="4.35" height="0.85" fill="#fab60a" stroke="#8a6200" stroke-width="0.7"/>
<rect x="405.15" y="251.5" width="4.35" height="6.25" fill="#fab60a" stroke="#8a6200" stroke-width="0.7"/>
<rect x="409.5" y="253.1" width="4.35" height="4.65" fill="#fab60a" stroke="#8a6200" stroke-width="0.7"/>
<rect x="418.2" y="254.6" width="4.35" height="3.15" fill="#fab60a" stroke="#8a6200" stroke-width="0.7"/>
<rect x="422.55" y="256.9" width="4.35" height="0.85" fill="#fab60a" stroke="#8a6200" stroke-width="0.7"/>
<rect x="426.9" y="253.1" width="4.35" height="4.65" fill="#fab60a" stroke="#8a6200" stroke-width="0.7"/>
<rect x="302.5" y="203.6" width="159.5" height="54.15" fill="none" stroke="#484848" stroke-width="1.2"/>
<line x1="333.5" y1="203.6" x2="333.5" y2="205.6" stroke="#777" stroke-width="0.6"/>
<line x1="333.5" y1="257.75" x2="333.5" y2="255.75" stroke="#777" stroke-width="0.6"/>
<line x1="365" y1="203.6" x2="365" y2="205.6" stroke="#777" stroke-width="0.6"/>
<line x1="365" y1="257.75" x2="365" y2="255.75" stroke="#777" stroke-width="0.6"/>
<line x1="396.5" y1="203.6" x2="396.5" y2="205.6" stroke="#777" stroke-width="0.6"/>
<line x1="396.5" y1="257.75" x2="396.5" y2="255.75" stroke="#777" stroke-width="0.6"/>
<line x1="428" y1="203.6" x2="428" y2="205.6" stroke="#777" stroke-width="0.6"/>
<line x1="428" y1="257.75" x2="428" y2="255.75" stroke="#777" stroke-width="0.6"/>
<line x1="459.5" y1="203.6" x2="459.5" y2="205.6" stroke="#777" stroke-width="0.6"/>
<line x1="459.5" y1="257.75" x2="459.5" y2="255.75" stroke="#777" stroke-width="0.6"/>
<line x1="302.5" y1="250" x2="304.5" y2="250" stroke="#777" stroke-width="0.6"/>
<line x1="462" y1="250" x2="460" y2="250" stroke="#777" stroke-width="0.6"/>
<line x1="302.5" y1="242.25" x2="304.5" y2="242.25" stroke="#777" stroke-width="0.6"/>
<line x1="462" y1="242.25" x2="460" y2="242.25" stroke="#777" stroke-width="0.6"/>
<line x1="302.5" y1="234.5" x2="304.5" y2="234.5" stroke="#777" stroke-width="0.6"/>
<line x1="462" y1="234.5" x2="460" y2="234.5" stroke="#777" stroke-width="0.6"/>
<line x1="302.5" y1="226.75" x2="304.5" y2="226.75" stroke="#777" stroke-width="0.6"/>
<line x1="462" y1="226.75" x2="460" y2="226.75" stroke="#777" stroke-width="0.6"/>
<line x1="302.5" y1="219" x2="304.5" y2="219" stroke="#777" stroke-width="0.6"/>
<line x1="462" y1="219" x2="460" y2="219" stroke="#777" stroke-width="0.6"/>
<line x1="302.5" y1="211.25" x2="304.5" y2="211.25" stroke="#777" stroke-width="0.6"/>
<line x1="462" y1="211.25" x2="460" y2="211.25" stroke="#777" stroke-width="0.6"/>
<text x="301.4" y="260.65" font-size="8.2" text-anchor="end">0</text>
<text x="301.4" y="245.15" font-size="8.2" text-anchor="end">10</text>
<text x="301.4" y="229.65" font-size="8.2" text-anchor="end">20</text>
<text x="301.4" y="214.15" font-size="8.2" text-anchor="end">30</text>
<text x="288.3" y="229.9" font-size="8.9" text-anchor="middle" textLength="32.4" lengthAdjust="spacing" transform="rotate(-90 288.3 229.9)"># genes</text>
<rect x="303.7" y="322.7" width="6.25" height="0.7" fill="#8a8a8a" stroke="#4e4e4e" stroke-width="0.7"/>
<rect x="322.45" y="322.6" width="6.25" height="0.8" fill="#8a8a8a" stroke="#4e4e4e" stroke-width="0.7"/>
<rect x="328.7" y="322" width="6.25" height="1.4" fill="#8a8a8a" stroke="#4e4e4e" stroke-width="0.7"/>
<rect x="334.95" y="320" width="6.25" height="3.4" fill="#8a8a8a" stroke="#4e4e4e" stroke-width="0.7"/>
<rect x="341.2" y="316.9" width="6.25" height="6.5" fill="#8a8a8a" stroke="#4e4e4e" stroke-width="0.7"/>
<rect x="347.45" y="312.1" width="6.25" height="11.3" fill="#8a8a8a" stroke="#4e4e4e" stroke-width="0.7"/>
<rect x="353.7" y="299.75" width="6.25" height="23.65" fill="#8a8a8a" stroke="#4e4e4e" stroke-width="0.7"/>
<rect x="359.95" y="275" width="6.25" height="48.4" fill="#8a8a8a" stroke="#4e4e4e" stroke-width="0.7"/>
<rect x="366.2" y="293.1" width="6.25" height="30.3" fill="#8a8a8a" stroke="#4e4e4e" stroke-width="0.7"/>
<rect x="372.45" y="299.75" width="6.25" height="23.65" fill="#8a8a8a" stroke="#4e4e4e" stroke-width="0.7"/>
<rect x="378.7" y="317.75" width="6.25" height="5.65" fill="#8a8a8a" stroke="#4e4e4e" stroke-width="0.7"/>
<rect x="384.95" y="319.4" width="6.25" height="4" fill="#8a8a8a" stroke="#4e4e4e" stroke-width="0.7"/>
<rect x="391.2" y="321" width="6.25" height="2.4" fill="#8a8a8a" stroke="#4e4e4e" stroke-width="0.7"/>
<rect x="397.45" y="322.5" width="6.25" height="0.9" fill="#8a8a8a" stroke="#4e4e4e" stroke-width="0.7"/>
<rect x="302.5" y="268.5" width="159.5" height="54.9" fill="none" stroke="#484848" stroke-width="1.2"/>
<line x1="333.5" y1="268.5" x2="333.5" y2="270.5" stroke="#777" stroke-width="0.6"/>
<line x1="333.5" y1="323.4" x2="333.5" y2="321.4" stroke="#777" stroke-width="0.6"/>
<line x1="365" y1="268.5" x2="365" y2="270.5" stroke="#777" stroke-width="0.6"/>
<line x1="365" y1="323.4" x2="365" y2="321.4" stroke="#777" stroke-width="0.6"/>
<line x1="396.5" y1="268.5" x2="396.5" y2="270.5" stroke="#777" stroke-width="0.6"/>
<line x1="396.5" y1="323.4" x2="396.5" y2="321.4" stroke="#777" stroke-width="0.6"/>
<line x1="428" y1="268.5" x2="428" y2="270.5" stroke="#777" stroke-width="0.6"/>
<line x1="428" y1="323.4" x2="428" y2="321.4" stroke="#777" stroke-width="0.6"/>
<line x1="459.5" y1="268.5" x2="459.5" y2="270.5" stroke="#777" stroke-width="0.6"/>
<line x1="459.5" y1="323.4" x2="459.5" y2="321.4" stroke="#777" stroke-width="0.6"/>
<line x1="302.5" y1="315.33" x2="304.5" y2="315.33" stroke="#777" stroke-width="0.6"/>
<line x1="462" y1="315.33" x2="460" y2="315.33" stroke="#777" stroke-width="0.6"/>
<line x1="302.5" y1="307.67" x2="304.5" y2="307.67" stroke="#777" stroke-width="0.6"/>
<line x1="462" y1="307.67" x2="460" y2="307.67" stroke="#777" stroke-width="0.6"/>
<line x1="302.5" y1="300" x2="304.5" y2="300" stroke="#777" stroke-width="0.6"/>
<line x1="462" y1="300" x2="460" y2="300" stroke="#777" stroke-width="0.6"/>
<line x1="302.5" y1="292.33" x2="304.5" y2="292.33" stroke="#777" stroke-width="0.6"/>
<line x1="462" y1="292.33" x2="460" y2="292.33" stroke="#777" stroke-width="0.6"/>
<line x1="302.5" y1="284.67" x2="304.5" y2="284.67" stroke="#777" stroke-width="0.6"/>
<line x1="462" y1="284.67" x2="460" y2="284.67" stroke="#777" stroke-width="0.6"/>
<line x1="302.5" y1="277" x2="304.5" y2="277" stroke="#777" stroke-width="0.6"/>
<line x1="462" y1="277" x2="460" y2="277" stroke="#777" stroke-width="0.6"/>
<text x="301.4" y="325.9" font-size="8.2" text-anchor="end">0</text>
<text x="301.4" y="310.57" font-size="8.2" text-anchor="end">20</text>
<text x="301.4" y="295.23" font-size="8.2" text-anchor="end">40</text>
<text x="301.4" y="279.9" font-size="8.2" text-anchor="end">60</text>
<text x="288.3" y="290.5" font-size="8.9" text-anchor="middle" textLength="32.4" lengthAdjust="spacing" transform="rotate(-90 288.3 290.5)"># genes</text>
<text x="333.5" y="332.3" font-size="8.2" text-anchor="middle">-2</text>
<text x="365" y="332.3" font-size="8.2" text-anchor="middle">0</text>
<text x="396.5" y="332.3" font-size="8.2" text-anchor="middle">2</text>
<text x="428" y="332.3" font-size="8.2" text-anchor="middle">4</text>
<text x="459.5" y="332.3" font-size="8.2" text-anchor="middle">6</text>
<text x="341.7" y="347.4" font-size="10.5" textLength="84" lengthAdjust="spacing">Log2 fold change</text>
<text x="315.8" y="360.6" font-size="10.5" textLength="137.6" lengthAdjust="spacing">(WT induced/WT uninduced)</text>
<text x="-1.6" y="396" font-size="19" font-weight="bold">C</text>
<rect x="40" y="400.5" width="185.5" height="189" fill="none" stroke="#484848" stroke-width="1.2"/>
<line x1="59" y1="400.5" x2="59" y2="402.5" stroke="#777" stroke-width="0.6"/>
<line x1="59" y1="589.5" x2="59" y2="587.5" stroke="#777" stroke-width="0.6"/>
<line x1="80.3" y1="400.5" x2="80.3" y2="402.5" stroke="#777" stroke-width="0.6"/>
<line x1="80.3" y1="589.5" x2="80.3" y2="587.5" stroke="#777" stroke-width="0.6"/>
<line x1="101.6" y1="400.5" x2="101.6" y2="402.5" stroke="#777" stroke-width="0.6"/>
<line x1="101.6" y1="589.5" x2="101.6" y2="587.5" stroke="#777" stroke-width="0.6"/>
<line x1="122.9" y1="400.5" x2="122.9" y2="402.5" stroke="#777" stroke-width="0.6"/>
<line x1="122.9" y1="589.5" x2="122.9" y2="587.5" stroke="#777" stroke-width="0.6"/>
<line x1="144.2" y1="400.5" x2="144.2" y2="402.5" stroke="#777" stroke-width="0.6"/>
<line x1="144.2" y1="589.5" x2="144.2" y2="587.5" stroke="#777" stroke-width="0.6"/>
<line x1="165.5" y1="400.5" x2="165.5" y2="402.5" stroke="#777" stroke-width="0.6"/>
<line x1="165.5" y1="589.5" x2="165.5" y2="587.5" stroke="#777" stroke-width="0.6"/>
<line x1="186.8" y1="400.5" x2="186.8" y2="402.5" stroke="#777" stroke-width="0.6"/>
<line x1="186.8" y1="589.5" x2="186.8" y2="587.5" stroke="#777" stroke-width="0.6"/>
<line x1="208.1" y1="400.5" x2="208.1" y2="402.5" stroke="#777" stroke-width="0.6"/>
<line x1="208.1" y1="589.5" x2="208.1" y2="587.5" stroke="#777" stroke-width="0.6"/>
<line x1="40" y1="567.4" x2="42" y2="567.4" stroke="#777" stroke-width="0.6"/>
<line x1="225.5" y1="567.4" x2="223.5" y2="567.4" stroke="#777" stroke-width="0.6"/>
<line x1="40" y1="531.2" x2="42" y2="531.2" stroke="#777" stroke-width="0.6"/>
<line x1="225.5" y1="531.2" x2="223.5" y2="531.2" stroke="#777" stroke-width="0.6"/>
<line x1="40" y1="495" x2="42" y2="495" stroke="#777" stroke-width="0.6"/>
<line x1="225.5" y1="495" x2="223.5" y2="495" stroke="#777" stroke-width="0.6"/>
<line x1="40" y1="458.8" x2="42" y2="458.8" stroke="#777" stroke-width="0.6"/>
<line x1="225.5" y1="458.8" x2="223.5" y2="458.8" stroke="#777" stroke-width="0.6"/>
<line x1="40" y1="422.6" x2="42" y2="422.6" stroke="#777" stroke-width="0.6"/>
<line x1="225.5" y1="422.6" x2="223.5" y2="422.6" stroke="#777" stroke-width="0.6"/>
<line x1="40" y1="495" x2="225.5" y2="495" stroke="#888" stroke-width="0.8" stroke-dasharray="1 1.6"/>
<text x="37.5" y="569.9" font-size="7.2" text-anchor="end" class="s">-4</text>
<text x="37.5" y="533.7" font-size="7.2" text-anchor="end" class="s">-2</text>
<text x="37.5" y="497.5" font-size="7.2" text-anchor="end" class="s">0</text>
<text x="37.5" y="461.3" font-size="7.2" text-anchor="end" class="s">2</text>
<text x="37.5" y="425.1" font-size="7.2" text-anchor="end" class="s">4</text>
<text x="59" y="597" font-size="7.4" text-anchor="middle" class="s">6</text>
<text x="80.3" y="597" font-size="7.4" text-anchor="middle" class="s">8</text>
<text x="101.6" y="597" font-size="7.4" text-anchor="middle" class="s">10</text>
<text x="122.9" y="597" font-size="7.4" text-anchor="middle" class="s">12</text>
<text x="144.2" y="597" font-size="7.4" text-anchor="middle" class="s">14</text>
<text x="165.5" y="597" font-size="7.4" text-anchor="middle" class="s">16</text>
<text x="186.8" y="597" font-size="7.4" text-anchor="middle" class="s">18</text>
<text x="208.1" y="597" font-size="7.4" text-anchor="middle" class="s">20</text>
<text x="49.9" y="612" font-size="10.5" textLength="170" lengthAdjust="spacing">Log2 expression, WT induced MEL</text>
<text x="8.6" y="495.1" font-size="10.7" text-anchor="middle" textLength="85" lengthAdjust="spacing" transform="rotate(-90 8.6 495.1)">Log2 fold change</text>
<text x="21.8" y="494.2" font-size="10.7" text-anchor="middle" textLength="127.8" lengthAdjust="spacing" transform="rotate(-90 21.8 494.2)">(KD induced/ WT induced)</text>
<text x="257.1" y="396.4" font-size="19" font-weight="bold">D</text>
<rect x="296.75" y="397.5" width="184.75" height="190.9" fill="none" stroke="#484848" stroke-width="1.2"/>
<line x1="306.1" y1="397.5" x2="306.1" y2="399.5" stroke="#777" stroke-width="0.6"/>
<line x1="306.1" y1="588.4" x2="306.1" y2="586.4" stroke="#777" stroke-width="0.6"/>
<line x1="333.8" y1="397.5" x2="333.8" y2="399.5" stroke="#777" stroke-width="0.6"/>
<line x1="333.8" y1="588.4" x2="333.8" y2="586.4" stroke="#777" stroke-width="0.6"/>
<line x1="361.5" y1="397.5" x2="361.5" y2="399.5" stroke="#777" stroke-width="0.6"/>
<line x1="361.5" y1="588.4" x2="361.5" y2="586.4" stroke="#777" stroke-width="0.6"/>
<line x1="389.2" y1="397.5" x2="389.2" y2="399.5" stroke="#777" stroke-width="0.6"/>
<line x1="389.2" y1="588.4" x2="389.2" y2="586.4" stroke="#777" stroke-width="0.6"/>
<line x1="416.9" y1="397.5" x2="416.9" y2="399.5" stroke="#777" stroke-width="0.6"/>
<line x1="416.9" y1="588.4" x2="416.9" y2="586.4" stroke="#777" stroke-width="0.6"/>
<line x1="444.6" y1="397.5" x2="444.6" y2="399.5" stroke="#777" stroke-width="0.6"/>
<line x1="444.6" y1="588.4" x2="444.6" y2="586.4" stroke="#777" stroke-width="0.6"/>
<line x1="472.3" y1="397.5" x2="472.3" y2="399.5" stroke="#777" stroke-width="0.6"/>
<line x1="472.3" y1="588.4" x2="472.3" y2="586.4" stroke="#777" stroke-width="0.6"/>
<line x1="296.75" y1="565.3" x2="298.75" y2="565.3" stroke="#777" stroke-width="0.6"/>
<line x1="481.5" y1="565.3" x2="479.5" y2="565.3" stroke="#777" stroke-width="0.6"/>
<line x1="296.75" y1="528.9" x2="298.75" y2="528.9" stroke="#777" stroke-width="0.6"/>
<line x1="481.5" y1="528.9" x2="479.5" y2="528.9" stroke="#777" stroke-width="0.6"/>
<line x1="296.75" y1="492.5" x2="298.75" y2="492.5" stroke="#777" stroke-width="0.6"/>
<line x1="481.5" y1="492.5" x2="479.5" y2="492.5" stroke="#777" stroke-width="0.6"/>
<line x1="296.75" y1="456.1" x2="298.75" y2="456.1" stroke="#777" stroke-width="0.6"/>
<line x1="481.5" y1="456.1" x2="479.5" y2="456.1" stroke="#777" stroke-width="0.6"/>
<line x1="296.75" y1="419.7" x2="298.75" y2="419.7" stroke="#777" stroke-width="0.6"/>
<line x1="481.5" y1="419.7" x2="479.5" y2="419.7" stroke="#777" stroke-width="0.6"/>
<line x1="296.75" y1="492.5" x2="481.5" y2="492.5" stroke="#888" stroke-width="0.8" stroke-dasharray="1 1.6"/>
<line x1="389.2" y1="397.5" x2="389.2" y2="588.4" stroke="#888" stroke-width="0.8" stroke-dasharray="1 1.6"/>
<text x="294" y="567.8" font-size="7.2" text-anchor="end" class="s">-4</text>
<text x="294" y="531.4" font-size="7.2" text-anchor="end" class="s">-2</text>
<text x="294" y="495" font-size="7.2" text-anchor="end" class="s">0</text>
<text x="294" y="458.6" font-size="7.2" text-anchor="end" class="s">2</text>
<text x="294" y="422.2" font-size="7.2" text-anchor="end" class="s">4</text>
<text x="306.1" y="595.9" font-size="7.4" text-anchor="middle" class="s">-6</text>
<text x="333.8" y="595.9" font-size="7.4" text-anchor="middle" class="s">-4</text>
<text x="361.5" y="595.9" font-size="7.4" text-anchor="middle" class="s">-2</text>
<text x="389.2" y="595.9" font-size="7.4" text-anchor="middle" class="s">0</text>
<text x="416.9" y="595.9" font-size="7.4" text-anchor="middle" class="s">2</text>
<text x="444.6" y="595.9" font-size="7.4" text-anchor="middle" class="s">4</text>
<text x="472.3" y="595.9" font-size="7.4" text-anchor="middle" class="s">6</text>
<text x="290.8" y="611.2" font-size="10.6" textLength="213.5" lengthAdjust="spacing">Induction effect (WT induced/WT uninduced)</text>
<text x="266.3" y="491.35" font-size="10.7" text-anchor="middle" textLength="122.2" lengthAdjust="spacing" transform="rotate(-90 266.3 491.35)">KD effect in induced MEL</text>
<text x="279.6" y="492.6" font-size="10.7" text-anchor="middle" textLength="127.8" lengthAdjust="spacing" transform="rotate(-90 279.6 492.6)">(KD induced/ WT induced)</text>
<rect x="481.5" y="397.5" width="3.4" height="190.9" fill="#a9a9a9" stroke="none" stroke-width="1"/>
<line x1="481.5" y1="397.5" x2="481.5" y2="588.4" stroke="#484848" stroke-width="1.1"/>
<line x1="481" y1="397.5" x2="485" y2="397.5" stroke="#484848" stroke-width="1.1"/>
<line x1="481" y1="588.4" x2="485" y2="588.4" stroke="#484848" stroke-width="1.1"/>
<rect x="484.2" y="479.5" width="3.5" height="3.24" fill="#fab60a" stroke="#8a6200" stroke-width="0.5"/>
<rect x="484.2" y="482.74" width="5.5" height="3.24" fill="#fab60a" stroke="#8a6200" stroke-width="0.5"/>
<rect x="484.2" y="485.98" width="7" height="3.24" fill="#fab60a" stroke="#8a6200" stroke-width="0.5"/>
<rect x="484.2" y="489.22" width="9" height="3.24" fill="#fab60a" stroke="#8a6200" stroke-width="0.5"/>
<rect x="484.2" y="492.46" width="13" height="3.24" fill="#fab60a" stroke="#8a6200" stroke-width="0.5"/>
<rect x="484.2" y="495.7" width="15.2" height="3.24" fill="#fab60a" stroke="#8a6200" stroke-width="0.5"/>
<rect x="484.2" y="498.94" width="11.3" height="3.24" fill="#fab60a" stroke="#8a6200" stroke-width="0.5"/>
<rect x="484.2" y="502.18" width="10.3" height="3.24" fill="#fab60a" stroke="#8a6200" stroke-width="0.5"/>
<rect x="484.2" y="505.42" width="9" height="3.24" fill="#fab60a" stroke="#8a6200" stroke-width="0.5"/>
<rect x="484.2" y="508.66" width="7" height="3.24" fill="#fab60a" stroke="#8a6200" stroke-width="0.5"/>
<rect x="484.2" y="511.9" width="5.5" height="3.24" fill="#fab60a" stroke="#8a6200" stroke-width="0.5"/>
<rect x="484.2" y="515.14" width="5.5" height="3.24" fill="#fab60a" stroke="#8a6200" stroke-width="0.5"/>
<rect x="484.2" y="518.38" width="3.5" height="3.24" fill="#fab60a" stroke="#8a6200" stroke-width="0.5"/>
<rect x="484.2" y="521.62" width="4.5" height="3.24" fill="#fab60a" stroke="#8a6200" stroke-width="0.5"/>
<rect x="484.2" y="524.86" width="5.5" height="3.24" fill="#fab60a" stroke="#8a6200" stroke-width="0.5"/>
<rect x="484.2" y="528.1" width="1.5" height="3.24" fill="#fab60a" stroke="#8a6200" stroke-width="0.5"/>
<rect x="484.2" y="531.34" width="2.4" height="3.24" fill="#fab60a" stroke="#8a6200" stroke-width="0.5"/>
<rect x="484.2" y="534.58" width="1" height="3.24" fill="#fab60a" stroke="#8a6200" stroke-width="0.5"/>
<rect x="484.2" y="537.82" width="1" height="3.24" fill="#fab60a" stroke="#8a6200" stroke-width="0.5"/>
<rect x="484.2" y="541.06" width="1" height="3.24" fill="#fab60a" stroke="#8a6200" stroke-width="0.5"/>
<rect x="484.2" y="544.3" width="0.8" height="3.24" fill="#fab60a" stroke="#8a6200" stroke-width="0.5"/>
<rect x="484.2" y="547.54" width="0.8" height="3.24" fill="#fab60a" stroke="#8a6200" stroke-width="0.5"/>
<rect x="484.2" y="550.78" width="0.7" height="3.24" fill="#fab60a" stroke="#8a6200" stroke-width="0.5"/>
<rect x="484.9" y="397.5" width="15.8" height="190.9" fill="none" stroke="#484848" stroke-width="1.2"/>
<line x1="484.9" y1="565.3" x2="486.9" y2="565.3" stroke="#777" stroke-width="0.6"/>
<line x1="500.7" y1="565.3" x2="498.7" y2="565.3" stroke="#777" stroke-width="0.6"/>
<line x1="484.9" y1="528.9" x2="486.9" y2="528.9" stroke="#777" stroke-width="0.6"/>
<line x1="500.7" y1="528.9" x2="498.7" y2="528.9" stroke="#777" stroke-width="0.6"/>
<line x1="484.9" y1="492.5" x2="486.9" y2="492.5" stroke="#777" stroke-width="0.6"/>
<line x1="500.7" y1="492.5" x2="498.7" y2="492.5" stroke="#777" stroke-width="0.6"/>
<line x1="484.9" y1="456.1" x2="486.9" y2="456.1" stroke="#777" stroke-width="0.6"/>
<line x1="500.7" y1="456.1" x2="498.7" y2="456.1" stroke="#777" stroke-width="0.6"/>
<line x1="484.9" y1="419.7" x2="486.9" y2="419.7" stroke="#777" stroke-width="0.6"/>
<line x1="500.7" y1="419.7" x2="498.7" y2="419.7" stroke="#777" stroke-width="0.6"/>
<rect x="502.6" y="469.78" width="1" height="3.24" fill="#8a8a8a" stroke="#4e4e4e" stroke-width="0.5"/>
<rect x="502.6" y="473.02" width="1" height="3.24" fill="#8a8a8a" stroke="#4e4e4e" stroke-width="0.5"/>
<rect x="502.6" y="476.26" width="1.3" height="3.24" fill="#8a8a8a" stroke="#4e4e4e" stroke-width="0.5"/>
<rect x="502.6" y="479.5" width="3.9" height="3.24" fill="#8a8a8a" stroke="#4e4e4e" stroke-width="0.5"/>
<rect x="502.6" y="482.74" width="6.8" height="3.24" fill="#8a8a8a" stroke="#4e4e4e" stroke-width="0.5"/>
<rect x="502.6" y="485.98" width="7.8" height="3.24" fill="#8a8a8a" stroke="#4e4e4e" stroke-width="0.5"/>
<rect x="502.6" y="489.22" width="11.1" height="3.24" fill="#8a8a8a" stroke="#4e4e4e" stroke-width="0.5"/>
<rect x="502.6" y="492.46" width="15.6" height="3.24" fill="#8a8a8a" stroke="#4e4e4e" stroke-width="0.5"/>
<rect x="502.6" y="495.7" width="9.8" height="3.24" fill="#8a8a8a" stroke="#4e4e4e" stroke-width="0.5"/>
<rect x="502.6" y="498.94" width="7.8" height="3.24" fill="#8a8a8a" stroke="#4e4e4e" stroke-width="0.5"/>
<rect x="502.6" y="502.18" width="5.9" height="3.24" fill="#8a8a8a" stroke="#4e4e4e" stroke-width="0.5"/>
<rect x="502.6" y="505.42" width="4.5" height="3.24" fill="#8a8a8a" stroke="#4e4e4e" stroke-width="0.5"/>
<rect x="502.6" y="508.66" width="2.9" height="3.24" fill="#8a8a8a" stroke="#4e4e4e" stroke-width="0.5"/>
<rect x="502.6" y="511.9" width="2" height="3.24" fill="#8a8a8a" stroke="#4e4e4e" stroke-width="0.5"/>
<rect x="502.6" y="515.14" width="1" height="3.24" fill="#8a8a8a" stroke="#4e4e4e" stroke-width="0.5"/>
<rect x="502.6" y="518.38" width="0.8" height="3.24" fill="#8a8a8a" stroke="#4e4e4e" stroke-width="0.5"/>
<rect x="502.7" y="397.5" width="17.9" height="190.9" fill="none" stroke="#484848" stroke-width="1.2"/>
<line x1="502.7" y1="565.3" x2="504.7" y2="565.3" stroke="#777" stroke-width="0.6"/>
<line x1="520.6" y1="565.3" x2="518.6" y2="565.3" stroke="#777" stroke-width="0.6"/>
<line x1="502.7" y1="528.9" x2="504.7" y2="528.9" stroke="#777" stroke-width="0.6"/>
<line x1="520.6" y1="528.9" x2="518.6" y2="528.9" stroke="#777" stroke-width="0.6"/>
<line x1="502.7" y1="492.5" x2="504.7" y2="492.5" stroke="#777" stroke-width="0.6"/>
<line x1="520.6" y1="492.5" x2="518.6" y2="492.5" stroke="#777" stroke-width="0.6"/>
<line x1="502.7" y1="456.1" x2="504.7" y2="456.1" stroke="#777" stroke-width="0.6"/>
<line x1="520.6" y1="456.1" x2="518.6" y2="456.1" stroke="#777" stroke-width="0.6"/>
<line x1="502.7" y1="419.7" x2="504.7" y2="419.7" stroke="#777" stroke-width="0.6"/>
<line x1="520.6" y1="419.7" x2="518.6" y2="419.7" stroke="#777" stroke-width="0.6"/>
<text x="485.7" y="591.5" font-size="7.2" class="s" transform="rotate(90 485.7 591.5)">10</text>
<text x="493.7" y="591.5" font-size="7.2" class="s" transform="rotate(90 493.7 591.5)">20</text>
<text x="504.3" y="591.5" font-size="7.2" class="s" transform="rotate(90 504.3 591.5)">20</text>
<text x="512.2" y="591.5" font-size="7.2" class="s" transform="rotate(90 512.2 591.5)">40</text>
<circle cx="154.7" cy="418.8" r="2.7" fill="#e3a21e"/>
<circle cx="154.7" cy="431.9" r="2.7" fill="#727272"/>
<text x="160" y="422.6" font-size="10.2" textLength="57" lengthAdjust="spacing">Ldb1 bound</text>
<text x="160" y="435.6" font-size="10.2" textLength="44.5" lengthAdjust="spacing">Unbound</text>
<circle cx="412.9" cy="412.6" r="2.7" fill="#e3a21e"/>
<circle cx="412.9" cy="425.7" r="2.7" fill="#727272"/>
<text x="418" y="416.1" font-size="10.2" textLength="57" lengthAdjust="spacing">Ldb1 bound</text>
<text x="418" y="429.2" font-size="10.2" textLength="44.5" lengthAdjust="spacing">Unbound</text>
<circle cx="144.18" cy="493.99" r="1.3" fill="#73748e"/>
<circle cx="135.27" cy="492.51" r="1.3" fill="#dab23e"/>
<circle cx="141.42" cy="493.49" r="1.3" fill="#dab23e"/>
<circle cx="199.7" cy="541.9" r="1.3" fill="#dab23e"/>
<circle cx="127.7" cy="491.11" r="1.3" fill="#dab23e"/>
<circle cx="119.28" cy="503.09" r="1.3" fill="#dab23e"/>
<circle cx="176.05" cy="504.44" r="1.3" fill="#dab23e"/>
<circle cx="133.71" cy="496.01" r="1.3" fill="#dab23e"/>
<circle cx="82.68" cy="497.32" r="1.3" fill="#dab23e"/>
<circle cx="66.26" cy="494.22" r="1.3" fill="#73748e"/>
<circle cx="96.39" cy="510.74" r="1.3" fill="#dab23e"/>
<circle cx="135.79" cy="510.21" r="1.3" fill="#dab23e"/>
<circle cx="176.02" cy="502.58" r="1.3" fill="#dab23e"/>
<circle cx="97.3" cy="486.3" r="1.3" fill="#73748e"/>
<circle cx="139.33" cy="487.32" r="1.3" fill="#dab23e"/>
<circle cx="216.2" cy="523.3" r="1.3" fill="#dab23e"/>
<circle cx="152.62" cy="485.33" r="1.3" fill="#dab23e"/>
<circle cx="207.05" cy="487.03" r="1.3" fill="#dab23e"/>
<circle cx="154.4" cy="482.23" r="1.3" fill="#dab23e"/>
<circle cx="113.36" cy="493" r="1.3" fill="#dab23e"/>
<circle cx="126.5" cy="483.8" r="1.3" fill="#dab23e"/>
<circle cx="164.6" cy="516.5" r="1.3" fill="#dab23e"/>
<circle cx="67.14" cy="502.1" r="1.3" fill="#dab23e"/>
<circle cx="61.31" cy="494.26" r="1.3" fill="#dab23e"/>
<circle cx="106.19" cy="486.57" r="1.3" fill="#dab23e"/>
<circle cx="92.56" cy="498.89" r="1.3" fill="#dab23e"/>
<circle cx="131.52" cy="484.96" r="1.3" fill="#dab23e"/>
<circle cx="74.73" cy="500.29" r="1.3" fill="#dab23e"/>
<circle cx="101.35" cy="492.4" r="1.3" fill="#dab23e"/>
<circle cx="146.23" cy="500.63" r="1.3" fill="#dab23e"/>
<circle cx="157.64" cy="485.82" r="1.3" fill="#73748e"/>
<circle cx="112.8" cy="489.11" r="1.3" fill="#dab23e"/>
<circle cx="130.96" cy="515.97" r="1.3" fill="#dab23e"/>
<circle cx="144.38" cy="496.59" r="1.3" fill="#dab23e"/>
<circle cx="142.67" cy="510.21" r="1.3" fill="#dab23e"/>
<circle cx="163.82" cy="491.64" r="1.3" fill="#dab23e"/>
<circle cx="160.8" cy="486.2" r="1.3" fill="#73748e"/>
<circle cx="197.1" cy="551" r="1.3" fill="#73748e"/>
<circle cx="106.84" cy="486.77" r="1.3" fill="#dab23e"/>
<circle cx="171.38" cy="505.62" r="1.3" fill="#dab23e"/>
<circle cx="104.35" cy="490.12" r="1.3" fill="#dab23e"/>
<circle cx="210.5" cy="494.11" r="1.3" fill="#dab23e"/>
<circle cx="171.72" cy="492.42" r="1.3" fill="#dab23e"/>
<circle cx="145.47" cy="488.48" r="1.3" fill="#73748e"/>
<circle cx="150.05" cy="501.41" r="1.3" fill="#dab23e"/>
<circle cx="67.61" cy="497.34" r="1.3" fill="#dab23e"/>
<circle cx="73.1" cy="481.9" r="1.3" fill="#73748e"/>
<circle cx="117.9" cy="479" r="1.3" fill="#73748e"/>
<circle cx="69.42" cy="496.2" r="1.3" fill="#dab23e"/>
<circle cx="130.48" cy="505.52" r="1.3" fill="#dab23e"/>
<circle cx="86.1" cy="495.93" r="1.3" fill="#dab23e"/>
<circle cx="146.07" cy="498.63" r="1.3" fill="#dab23e"/>
<circle cx="193.5" cy="503" r="1.3" fill="#dab23e"/>
<circle cx="105.39" cy="481.96" r="1.3" fill="#dab23e"/>
<circle cx="62.47" cy="496.94" r="1.3" fill="#dab23e"/>
<circle cx="129.41" cy="488.08" r="1.3" fill="#dab23e"/>
<circle cx="119.76" cy="502.85" r="1.3" fill="#dab23e"/>
<circle cx="143.36" cy="494.86" r="1.3" fill="#dab23e"/>
<circle cx="101.52" cy="509.54" r="1.3" fill="#dab23e"/>
<circle cx="181.26" cy="489.02" r="1.3" fill="#dab23e"/>
<circle cx="76.06" cy="495.51" r="1.3" fill="#dab23e"/>
<circle cx="160.01" cy="504.34" r="1.3" fill="#dab23e"/>
<circle cx="64.19" cy="498.59" r="1.3" fill="#dab23e"/>
<circle cx="171.26" cy="503.69" r="1.3" fill="#dab23e"/>
<circle cx="119.28" cy="514.29" r="1.3" fill="#dab23e"/>
<circle cx="184.8" cy="490.6" r="1.3" fill="#dab23e"/>
<circle cx="100.93" cy="489.48" r="1.3" fill="#dab23e"/>
<circle cx="64.76" cy="502.15" r="1.3" fill="#dab23e"/>
<circle cx="62.1" cy="497.57" r="1.3" fill="#dab23e"/>
<circle cx="175.2" cy="502.7" r="1.3" fill="#73748e"/>
<circle cx="97.23" cy="500.45" r="1.3" fill="#dab23e"/>
<circle cx="193.5" cy="535.3" r="1.3" fill="#dab23e"/>
<circle cx="119.8" cy="472.3" r="1.3" fill="#73748e"/>
<circle cx="71.64" cy="502.12" r="1.3" fill="#dab23e"/>
<circle cx="101.9" cy="487.7" r="1.3" fill="#73748e"/>
<circle cx="131.41" cy="489.8" r="1.3" fill="#dab23e"/>
<circle cx="211.05" cy="494.53" r="1.3" fill="#dab23e"/>
<circle cx="84.68" cy="496.85" r="1.3" fill="#73748e"/>
<circle cx="163.88" cy="492.47" r="1.3" fill="#dab23e"/>
<circle cx="194.4" cy="521.3" r="1.3" fill="#dab23e"/>
<circle cx="144.57" cy="499.62" r="1.3" fill="#73748e"/>
<circle cx="136.74" cy="491.67" r="1.3" fill="#73748e"/>
<circle cx="205" cy="503" r="1.3" fill="#dab23e"/>
<circle cx="65.78" cy="494.56" r="1.3" fill="#dab23e"/>
<circle cx="211.88" cy="506.86" r="1.3" fill="#dab23e"/>
<circle cx="142.05" cy="503.93" r="1.3" fill="#dab23e"/>
<circle cx="146.12" cy="494.24" r="1.3" fill="#dab23e"/>
<circle cx="93.8" cy="478.1" r="1.3" fill="#73748e"/>
<circle cx="104.22" cy="507.17" r="1.3" fill="#dab23e"/>
<circle cx="105.4" cy="510.4" r="1.3" fill="#73748e"/>
<circle cx="148.8" cy="494.36" r="1.3" fill="#dab23e"/>
<circle cx="158.8" cy="528" r="1.3" fill="#dab23e"/>
<circle cx="195.73" cy="511.78" r="1.3" fill="#dab23e"/>
<circle cx="93.5" cy="527" r="1.3" fill="#dab23e"/>
<circle cx="162.4" cy="533.9" r="1.3" fill="#dab23e"/>
<circle cx="88.74" cy="493.03" r="1.3" fill="#73748e"/>
<circle cx="107.3" cy="517" r="1.3" fill="#dab23e"/>
<circle cx="48.7" cy="496.9" r="1.3" fill="#73748e"/>
<circle cx="68.47" cy="500.42" r="1.3" fill="#dab23e"/>
<circle cx="108.19" cy="494.12" r="1.3" fill="#dab23e"/>
<circle cx="170.98" cy="496.27" r="1.3" fill="#dab23e"/>
<circle cx="137.53" cy="493.1" r="1.3" fill="#73748e"/>
<circle cx="64.5" cy="493" r="1.3" fill="#73748e"/>
<circle cx="74.6" cy="490.6" r="1.3" fill="#73748e"/>
<circle cx="145.4" cy="517.5" r="1.3" fill="#73748e"/>
<circle cx="132.3" cy="481.9" r="1.3" fill="#73748e"/>
<circle cx="75.43" cy="495.25" r="1.3" fill="#dab23e"/>
<circle cx="186" cy="484.5" r="1.3" fill="#dab23e"/>
<circle cx="146.55" cy="505.57" r="1.3" fill="#dab23e"/>
<circle cx="90" cy="513" r="1.3" fill="#dab23e"/>
<circle cx="142.5" cy="511.7" r="1.3" fill="#73748e"/>
<circle cx="93.25" cy="500.13" r="1.3" fill="#dab23e"/>
<circle cx="137.58" cy="504.26" r="1.3" fill="#dab23e"/>
<circle cx="98.73" cy="498.12" r="1.3" fill="#dab23e"/>
<circle cx="164.14" cy="495.2" r="1.3" fill="#dab23e"/>
<circle cx="110.56" cy="490.28" r="1.3" fill="#dab23e"/>
<circle cx="170.8" cy="540.1" r="1.3" fill="#dab23e"/>
<circle cx="179.35" cy="495.56" r="1.3" fill="#dab23e"/>
<circle cx="122.43" cy="492.83" r="1.3" fill="#dab23e"/>
<circle cx="147.6" cy="498.66" r="1.3" fill="#dab23e"/>
<circle cx="103.5" cy="479" r="1.3" fill="#dab23e"/>
<circle cx="123.99" cy="503.57" r="1.3" fill="#dab23e"/>
<circle cx="97.78" cy="492.34" r="1.3" fill="#73748e"/>
<circle cx="132" cy="528" r="1.3" fill="#dab23e"/>
<circle cx="139.19" cy="507.25" r="1.3" fill="#dab23e"/>
<circle cx="177.84" cy="488.66" r="1.3" fill="#dab23e"/>
<circle cx="146.19" cy="509.64" r="1.3" fill="#dab23e"/>
<circle cx="67.99" cy="501.44" r="1.3" fill="#dab23e"/>
<circle cx="102.2" cy="491.69" r="1.3" fill="#73748e"/>
<circle cx="125.2" cy="468.5" r="1.3" fill="#73748e"/>
<circle cx="130.4" cy="527.7" r="1.3" fill="#dab23e"/>
<circle cx="156.67" cy="493.23" r="1.3" fill="#dab23e"/>
<circle cx="132.76" cy="499.1" r="1.3" fill="#dab23e"/>
<circle cx="175.9" cy="536.4" r="1.3" fill="#dab23e"/>
<circle cx="92.9" cy="485.4" r="1.3" fill="#73748e"/>
<circle cx="165.6" cy="488.7" r="1.3" fill="#73748e"/>
<circle cx="96.02" cy="493.44" r="1.3" fill="#dab23e"/>
<circle cx="148.9" cy="471.8" r="1.3" fill="#dab23e"/>
<circle cx="113.09" cy="488.35" r="1.3" fill="#dab23e"/>
<circle cx="132.95" cy="498.26" r="1.3" fill="#dab23e"/>
<circle cx="93.69" cy="497.35" r="1.3" fill="#dab23e"/>
<circle cx="197.3" cy="510.8" r="1.3" fill="#dab23e"/>
<circle cx="176.9" cy="502.57" r="1.3" fill="#dab23e"/>
<circle cx="120.72" cy="491.6" r="1.3" fill="#dab23e"/>
<circle cx="202.23" cy="498.7" r="1.3" fill="#dab23e"/>
<circle cx="208.75" cy="495.78" r="1.3" fill="#dab23e"/>
<circle cx="173.4" cy="485.5" r="1.3" fill="#dab23e"/>
<circle cx="105.86" cy="506.12" r="1.3" fill="#73748e"/>
<circle cx="77.87" cy="500.1" r="1.3" fill="#dab23e"/>
<circle cx="176.84" cy="501.56" r="1.3" fill="#dab23e"/>
<circle cx="120.71" cy="501.26" r="1.3" fill="#73748e"/>
<circle cx="120.03" cy="497.02" r="1.3" fill="#dab23e"/>
<circle cx="121.82" cy="493.8" r="1.3" fill="#73748e"/>
<circle cx="154.93" cy="504.34" r="1.3" fill="#dab23e"/>
<circle cx="215.6" cy="495.4" r="1.3" fill="#73748e"/>
<circle cx="186.7" cy="488.7" r="1.3" fill="#73748e"/>
<circle cx="125.35" cy="506.69" r="1.3" fill="#73748e"/>
<circle cx="158.33" cy="502.81" r="1.3" fill="#dab23e"/>
<circle cx="91.3" cy="497.47" r="1.3" fill="#73748e"/>
<circle cx="174.64" cy="494.54" r="1.3" fill="#dab23e"/>
<circle cx="132.26" cy="490.84" r="1.3" fill="#dab23e"/>
<circle cx="141.44" cy="486.07" r="1.3" fill="#dab23e"/>
<circle cx="112.94" cy="492.35" r="1.3" fill="#dab23e"/>
<circle cx="162.7" cy="512.7" r="1.3" fill="#73748e"/>
<circle cx="153" cy="521.3" r="1.3" fill="#dab23e"/>
<circle cx="118.6" cy="528" r="1.3" fill="#dab23e"/>
<circle cx="118.5" cy="528" r="1.3" fill="#dab23e"/>
<circle cx="110.26" cy="510.93" r="1.3" fill="#dab23e"/>
<circle cx="145.38" cy="506.7" r="1.3" fill="#dab23e"/>
<circle cx="181" cy="495.4" r="1.3" fill="#dab23e"/>
<circle cx="118.95" cy="487.84" r="1.3" fill="#73748e"/>
<circle cx="119.7" cy="532.8" r="1.3" fill="#dab23e"/>
<circle cx="160.12" cy="504.99" r="1.3" fill="#dab23e"/>
<circle cx="105.09" cy="488.73" r="1.3" fill="#73748e"/>
<circle cx="206.5" cy="509.4" r="1.3" fill="#dab23e"/>
<circle cx="123.48" cy="504.49" r="1.3" fill="#dab23e"/>
<circle cx="179.64" cy="503.33" r="1.3" fill="#dab23e"/>
<circle cx="215.4" cy="540.8" r="1.3" fill="#dab23e"/>
<circle cx="115.72" cy="494.19" r="1.3" fill="#dab23e"/>
<circle cx="65.49" cy="496.19" r="1.3" fill="#dab23e"/>
<circle cx="170.52" cy="490.78" r="1.3" fill="#dab23e"/>
<circle cx="184.03" cy="490.31" r="1.3" fill="#dab23e"/>
<circle cx="144.39" cy="500.32" r="1.3" fill="#73748e"/>
<circle cx="149.2" cy="471.9" r="1.3" fill="#dab23e"/>
<circle cx="74.69" cy="495.11" r="1.3" fill="#73748e"/>
<circle cx="194.4" cy="492.5" r="1.3" fill="#dab23e"/>
<circle cx="125.51" cy="493.16" r="1.3" fill="#73748e"/>
<circle cx="169.13" cy="512.19" r="1.3" fill="#dab23e"/>
<circle cx="56" cy="497.7" r="1.3" fill="#73748e"/>
<circle cx="112.08" cy="497.18" r="1.3" fill="#dab23e"/>
<circle cx="151.98" cy="488.12" r="1.3" fill="#dab23e"/>
<circle cx="106.65" cy="509.62" r="1.3" fill="#dab23e"/>
<circle cx="163.06" cy="486.58" r="1.3" fill="#dab23e"/>
<circle cx="181.5" cy="525.2" r="1.3" fill="#dab23e"/>
<circle cx="174.19" cy="492.65" r="1.3" fill="#dab23e"/>
<circle cx="103.57" cy="477.73" r="1.3" fill="#dab23e"/>
<circle cx="72.45" cy="499.94" r="1.3" fill="#dab23e"/>
<circle cx="108.38" cy="499.96" r="1.3" fill="#73748e"/>
<circle cx="150.4" cy="497.93" r="1.3" fill="#dab23e"/>
<circle cx="149.55" cy="509.57" r="1.3" fill="#dab23e"/>
<circle cx="82.38" cy="495.37" r="1.3" fill="#dab23e"/>
<circle cx="191.58" cy="502.71" r="1.3" fill="#dab23e"/>
<circle cx="201.5" cy="512.3" r="1.3" fill="#dab23e"/>
<circle cx="97.3" cy="510.8" r="1.3" fill="#73748e"/>
<circle cx="116.39" cy="526.32" r="1.3" fill="#dab23e"/>
<circle cx="153.71" cy="477.83" r="1.3" fill="#73748e"/>
<circle cx="146.43" cy="487.09" r="1.3" fill="#73748e"/>
<circle cx="165.93" cy="494.43" r="1.3" fill="#dab23e"/>
<circle cx="88.34" cy="496.76" r="1.3" fill="#dab23e"/>
<circle cx="123.53" cy="481.11" r="1.3" fill="#73748e"/>
<circle cx="156.66" cy="480.96" r="1.3" fill="#dab23e"/>
<circle cx="176.51" cy="488.51" r="1.3" fill="#dab23e"/>
<circle cx="74.79" cy="494.58" r="1.3" fill="#73748e"/>
<circle cx="129.09" cy="500.58" r="1.3" fill="#73748e"/>
<circle cx="100" cy="505" r="1.3" fill="#dab23e"/>
<circle cx="66.37" cy="496.89" r="1.3" fill="#73748e"/>
<circle cx="93.84" cy="492.05" r="1.3" fill="#73748e"/>
<circle cx="86.41" cy="497.92" r="1.3" fill="#dab23e"/>
<circle cx="91.69" cy="494.53" r="1.3" fill="#dab23e"/>
<circle cx="125.4" cy="520.31" r="1.3" fill="#dab23e"/>
<circle cx="179.6" cy="537.5" r="1.3" fill="#dab23e"/>
<circle cx="176.2" cy="508.8" r="1.3" fill="#dab23e"/>
<circle cx="204" cy="499.2" r="1.3" fill="#dab23e"/>
<circle cx="65.39" cy="494.82" r="1.3" fill="#dab23e"/>
<circle cx="127.55" cy="490.65" r="1.3" fill="#dab23e"/>
<circle cx="150.78" cy="509.49" r="1.3" fill="#dab23e"/>
<circle cx="77.34" cy="499.98" r="1.3" fill="#dab23e"/>
<circle cx="101.32" cy="498.01" r="1.3" fill="#dab23e"/>
<circle cx="181.5" cy="530" r="1.3" fill="#dab23e"/>
<circle cx="161.49" cy="496.8" r="1.3" fill="#dab23e"/>
<circle cx="174.09" cy="524.22" r="1.3" fill="#dab23e"/>
<circle cx="168.6" cy="497.02" r="1.3" fill="#dab23e"/>
<circle cx="97.1" cy="466.9" r="1.3" fill="#73748e"/>
<circle cx="158.29" cy="495.94" r="1.3" fill="#73748e"/>
<circle cx="97.17" cy="492.75" r="1.3" fill="#73748e"/>
<circle cx="170.82" cy="499.05" r="1.3" fill="#dab23e"/>
<circle cx="87.7" cy="471.9" r="1.3" fill="#73748e"/>
<circle cx="153.67" cy="482.4" r="1.3" fill="#73748e"/>
<circle cx="100.36" cy="498.42" r="1.3" fill="#dab23e"/>
<circle cx="86.51" cy="495.86" r="1.3" fill="#dab23e"/>
<circle cx="107.86" cy="485.6" r="1.3" fill="#dab23e"/>
<circle cx="118.23" cy="500.44" r="1.3" fill="#dab23e"/>
<circle cx="100.27" cy="506.59" r="1.3" fill="#dab23e"/>
<circle cx="155.51" cy="502.45" r="1.3" fill="#dab23e"/>
<circle cx="125.9" cy="528" r="1.3" fill="#dab23e"/>
<circle cx="141.45" cy="503.8" r="1.3" fill="#dab23e"/>
<circle cx="56.54" cy="491.07" r="1.3" fill="#73748e"/>
<circle cx="143.54" cy="499.05" r="1.3" fill="#73748e"/>
<circle cx="133.2" cy="527.3" r="1.3" fill="#dab23e"/>
<circle cx="75.08" cy="499.38" r="1.3" fill="#dab23e"/>
<circle cx="65.2" cy="501.73" r="1.3" fill="#dab23e"/>
<circle cx="86.56" cy="494.36" r="1.3" fill="#dab23e"/>
<circle cx="141.84" cy="505.89" r="1.3" fill="#dab23e"/>
<circle cx="180" cy="501.2" r="1.3" fill="#dab23e"/>
<circle cx="79.4" cy="518.8" r="1.3" fill="#dab23e"/>
<circle cx="105.36" cy="491.12" r="1.3" fill="#dab23e"/>
<circle cx="102.74" cy="499.13" r="1.3" fill="#dab23e"/>
<circle cx="111.12" cy="496.03" r="1.3" fill="#dab23e"/>
<circle cx="131.43" cy="483.12" r="1.3" fill="#73748e"/>
<circle cx="188.7" cy="520.8" r="1.3" fill="#dab23e"/>
<circle cx="178.95" cy="494.23" r="1.3" fill="#73748e"/>
<circle cx="80.4" cy="497.19" r="1.3" fill="#dab23e"/>
<circle cx="138.54" cy="483.57" r="1.3" fill="#dab23e"/>
<circle cx="163.56" cy="499.08" r="1.3" fill="#dab23e"/>
<circle cx="199.2" cy="500.6" r="1.3" fill="#73748e"/>
<circle cx="96.26" cy="497.09" r="1.3" fill="#dab23e"/>
<circle cx="114.18" cy="487.23" r="1.3" fill="#dab23e"/>
<circle cx="124.8" cy="469.2" r="1.3" fill="#73748e"/>
<circle cx="76.53" cy="497.3" r="1.3" fill="#dab23e"/>
<circle cx="79.73" cy="498.88" r="1.3" fill="#dab23e"/>
<circle cx="182" cy="484" r="1.3" fill="#dab23e"/>
<circle cx="134.2" cy="473.3" r="1.3" fill="#73748e"/>
<circle cx="215.6" cy="513" r="1.3" fill="#dab23e"/>
<circle cx="72.91" cy="497.37" r="1.3" fill="#dab23e"/>
<circle cx="160.6" cy="508.73" r="1.3" fill="#dab23e"/>
<circle cx="147.86" cy="493.15" r="1.3" fill="#dab23e"/>
<circle cx="154.4" cy="568.6" r="1.3" fill="#73748e"/>
<circle cx="119.44" cy="493.16" r="1.3" fill="#dab23e"/>
<circle cx="206.73" cy="490.75" r="1.3" fill="#dab23e"/>
<circle cx="75.89" cy="496.84" r="1.3" fill="#dab23e"/>
<circle cx="154.93" cy="496.23" r="1.3" fill="#73748e"/>
<circle cx="142.5" cy="481.5" r="1.3" fill="#73748e"/>
<circle cx="176.9" cy="504.81" r="1.3" fill="#dab23e"/>
<circle cx="174.87" cy="504.66" r="1.3" fill="#dab23e"/>
<circle cx="146.35" cy="492.19" r="1.3" fill="#dab23e"/>
<circle cx="174.98" cy="486.19" r="1.3" fill="#dab23e"/>
<circle cx="59.8" cy="499.6" r="1.3" fill="#73748e"/>
<circle cx="63" cy="492.5" r="1.3" fill="#dab23e"/>
<circle cx="160.77" cy="495.09" r="1.3" fill="#73748e"/>
<circle cx="62.13" cy="496.67" r="1.3" fill="#dab23e"/>
<circle cx="132.94" cy="495.24" r="1.3" fill="#dab23e"/>
<circle cx="138.6" cy="476.5" r="1.3" fill="#dab23e"/>
<circle cx="129.65" cy="504.27" r="1.3" fill="#dab23e"/>
<circle cx="127.7" cy="526.2" r="1.3" fill="#dab23e"/>
<circle cx="170.4" cy="521.3" r="1.3" fill="#dab23e"/>
<circle cx="99.96" cy="492.91" r="1.3" fill="#73748e"/>
<circle cx="79.4" cy="504.6" r="1.3" fill="#73748e"/>
<circle cx="143.65" cy="503.48" r="1.3" fill="#dab23e"/>
<circle cx="121.41" cy="504.03" r="1.3" fill="#dab23e"/>
<circle cx="92.95" cy="491.34" r="1.3" fill="#73748e"/>
<circle cx="138.64" cy="498.92" r="1.3" fill="#dab23e"/>
<circle cx="181.13" cy="493.48" r="1.3" fill="#dab23e"/>
<circle cx="82.19" cy="491.88" r="1.3" fill="#dab23e"/>
<circle cx="97.5" cy="495.02" r="1.3" fill="#dab23e"/>
<circle cx="110.09" cy="474.01" r="1.3" fill="#dab23e"/>
<circle cx="202.74" cy="515.76" r="1.3" fill="#dab23e"/>
<circle cx="132.21" cy="495.48" r="1.3" fill="#dab23e"/>
<circle cx="70.8" cy="504.97" r="1.3" fill="#dab23e"/>
<circle cx="102" cy="489.11" r="1.3" fill="#73748e"/>
<circle cx="79.99" cy="492.27" r="1.3" fill="#73748e"/>
<circle cx="134.62" cy="498.72" r="1.3" fill="#73748e"/>
<circle cx="158" cy="528" r="1.3" fill="#dab23e"/>
<circle cx="131.14" cy="503.11" r="1.3" fill="#dab23e"/>
<circle cx="187.7" cy="508.8" r="1.3" fill="#dab23e"/>
<circle cx="109.38" cy="500.9" r="1.3" fill="#dab23e"/>
<circle cx="175.78" cy="496.98" r="1.3" fill="#dab23e"/>
<circle cx="85.6" cy="509.4" r="1.3" fill="#73748e"/>
<circle cx="172.47" cy="488.61" r="1.3" fill="#dab23e"/>
<circle cx="66.53" cy="498.24" r="1.3" fill="#73748e"/>
<circle cx="103.24" cy="490.97" r="1.3" fill="#73748e"/>
<circle cx="176.2" cy="517.5" r="1.3" fill="#dab23e"/>
<circle cx="178" cy="532" r="1.3" fill="#73748e"/>
<circle cx="61.64" cy="495.45" r="1.3" fill="#dab23e"/>
<circle cx="138.15" cy="508.38" r="1.3" fill="#dab23e"/>
<circle cx="113.58" cy="497.93" r="1.3" fill="#73748e"/>
<circle cx="178.11" cy="495.13" r="1.3" fill="#dab23e"/>
<circle cx="114.89" cy="519.53" r="1.3" fill="#dab23e"/>
<circle cx="155.01" cy="507.69" r="1.3" fill="#dab23e"/>
<circle cx="197.22" cy="499.64" r="1.3" fill="#dab23e"/>
<circle cx="68.8" cy="493" r="1.3" fill="#73748e"/>
<circle cx="102.85" cy="507.72" r="1.3" fill="#dab23e"/>
<circle cx="138.7" cy="478.1" r="1.3" fill="#dab23e"/>
<circle cx="163.23" cy="485.59" r="1.3" fill="#dab23e"/>
<circle cx="93.3" cy="493.03" r="1.3" fill="#dab23e"/>
<circle cx="99.07" cy="490.68" r="1.3" fill="#73748e"/>
<circle cx="210.72" cy="486.1" r="1.3" fill="#dab23e"/>
<circle cx="113.44" cy="494.57" r="1.3" fill="#dab23e"/>
<circle cx="116.46" cy="512.55" r="1.3" fill="#dab23e"/>
<circle cx="189.8" cy="531" r="1.3" fill="#dab23e"/>
<circle cx="97.3" cy="481.9" r="1.3" fill="#73748e"/>
<circle cx="170.4" cy="490.6" r="1.3" fill="#73748e"/>
<circle cx="137.03" cy="500.92" r="1.3" fill="#dab23e"/>
<circle cx="107.05" cy="498.05" r="1.3" fill="#dab23e"/>
<circle cx="72.6" cy="497.24" r="1.3" fill="#73748e"/>
<circle cx="163.33" cy="494.22" r="1.3" fill="#dab23e"/>
<circle cx="129.6" cy="481.4" r="1.3" fill="#dab23e"/>
<circle cx="184.85" cy="517.25" r="1.3" fill="#dab23e"/>
<circle cx="121.9" cy="497.62" r="1.3" fill="#dab23e"/>
<circle cx="108.16" cy="495.73" r="1.3" fill="#dab23e"/>
<circle cx="178.1" cy="532.8" r="1.3" fill="#73748e"/>
<circle cx="100.77" cy="497.18" r="1.3" fill="#dab23e"/>
<circle cx="202.34" cy="495.15" r="1.3" fill="#dab23e"/>
<circle cx="153.3" cy="521.8" r="1.3" fill="#dab23e"/>
<circle cx="112.72" cy="505.05" r="1.3" fill="#73748e"/>
<circle cx="159.49" cy="489.04" r="1.3" fill="#dab23e"/>
<circle cx="73.83" cy="494.02" r="1.3" fill="#73748e"/>
<circle cx="104.28" cy="491.38" r="1.3" fill="#73748e"/>
<circle cx="96.6" cy="466.3" r="1.3" fill="#73748e"/>
<circle cx="201.2" cy="494.4" r="1.3" fill="#dab23e"/>
<circle cx="69.84" cy="496.04" r="1.3" fill="#dab23e"/>
<circle cx="193.5" cy="509.8" r="1.3" fill="#dab23e"/>
<circle cx="70.51" cy="495.5" r="1.3" fill="#73748e"/>
<circle cx="118.67" cy="496.69" r="1.3" fill="#73748e"/>
<circle cx="160.74" cy="498.85" r="1.3" fill="#dab23e"/>
<circle cx="147.29" cy="489.63" r="1.3" fill="#dab23e"/>
<circle cx="72" cy="514" r="1.3" fill="#dab23e"/>
<circle cx="118.59" cy="502.09" r="1.3" fill="#dab23e"/>
<circle cx="166.17" cy="494.48" r="1.3" fill="#dab23e"/>
<circle cx="137.3" cy="497.02" r="1.3" fill="#dab23e"/>
<circle cx="123.43" cy="490.26" r="1.3" fill="#dab23e"/>
<circle cx="104.03" cy="491.69" r="1.3" fill="#73748e"/>
<circle cx="188" cy="545.6" r="1.3" fill="#dab23e"/>
<circle cx="97.05" cy="499.41" r="1.3" fill="#dab23e"/>
<circle cx="151.25" cy="510.51" r="1.3" fill="#dab23e"/>
<circle cx="77.92" cy="494.08" r="1.3" fill="#dab23e"/>
<circle cx="157.68" cy="493.69" r="1.3" fill="#73748e"/>
<circle cx="146.26" cy="489.71" r="1.3" fill="#dab23e"/>
<circle cx="103.73" cy="512.67" r="1.3" fill="#dab23e"/>
<circle cx="101.61" cy="490.37" r="1.3" fill="#dab23e"/>
<circle cx="152.63" cy="485.95" r="1.3" fill="#dab23e"/>
<circle cx="118.5" cy="531" r="1.3" fill="#dab23e"/>
<circle cx="159.55" cy="492.58" r="1.3" fill="#dab23e"/>
<circle cx="120.33" cy="508.63" r="1.3" fill="#dab23e"/>
<circle cx="131.95" cy="485.43" r="1.3" fill="#dab23e"/>
<circle cx="123.55" cy="501.86" r="1.3" fill="#dab23e"/>
<circle cx="155" cy="506" r="1.3" fill="#73748e"/>
<circle cx="126.5" cy="466.2" r="1.3" fill="#73748e"/>
<circle cx="135.18" cy="489.51" r="1.3" fill="#dab23e"/>
<circle cx="84" cy="504" r="1.3" fill="#dab23e"/>
<circle cx="96.38" cy="493.27" r="1.3" fill="#73748e"/>
<circle cx="68.62" cy="496.1" r="1.3" fill="#dab23e"/>
<circle cx="167.95" cy="492.72" r="1.3" fill="#dab23e"/>
<circle cx="190" cy="485.4" r="1.3" fill="#dab23e"/>
<circle cx="131.51" cy="484" r="1.3" fill="#dab23e"/>
<circle cx="156.9" cy="522" r="1.3" fill="#dab23e"/>
<circle cx="170.47" cy="505.68" r="1.3" fill="#dab23e"/>
<circle cx="153.61" cy="498.19" r="1.3" fill="#dab23e"/>
<circle cx="85.62" cy="500.05" r="1.3" fill="#dab23e"/>
<circle cx="115.67" cy="487.08" r="1.3" fill="#dab23e"/>
<circle cx="176.05" cy="501.93" r="1.3" fill="#dab23e"/>
<circle cx="160.34" cy="494.5" r="1.3" fill="#dab23e"/>
<circle cx="119.7" cy="471.8" r="1.3" fill="#73748e"/>
<circle cx="181.65" cy="510.74" r="1.3" fill="#dab23e"/>
<circle cx="142.18" cy="515.37" r="1.3" fill="#dab23e"/>
<circle cx="105.4" cy="483.8" r="1.3" fill="#73748e"/>
<circle cx="180.5" cy="496.23" r="1.3" fill="#dab23e"/>
<circle cx="64" cy="501" r="1.3" fill="#dab23e"/>
<circle cx="175.9" cy="557.3" r="1.3" fill="#dab23e"/>
<circle cx="70.62" cy="493.9" r="1.3" fill="#dab23e"/>
<circle cx="62.86" cy="496.58" r="1.3" fill="#dab23e"/>
<circle cx="176" cy="523.64" r="1.3" fill="#dab23e"/>
<circle cx="169.4" cy="499.6" r="1.3" fill="#73748e"/>
<circle cx="129.79" cy="489.45" r="1.3" fill="#dab23e"/>
<circle cx="170.45" cy="511.04" r="1.3" fill="#dab23e"/>
<circle cx="128.23" cy="480.11" r="1.3" fill="#dab23e"/>
<circle cx="193.5" cy="517.5" r="1.3" fill="#dab23e"/>
<circle cx="90.63" cy="498.14" r="1.3" fill="#dab23e"/>
<circle cx="138.07" cy="499.19" r="1.3" fill="#dab23e"/>
<circle cx="151.8" cy="504.57" r="1.3" fill="#dab23e"/>
<circle cx="70.63" cy="496.42" r="1.3" fill="#dab23e"/>
<circle cx="91.86" cy="497.64" r="1.3" fill="#dab23e"/>
<circle cx="56.93" cy="496.34" r="1.3" fill="#73748e"/>
<circle cx="187.3" cy="498.8" r="1.3" fill="#73748e"/>
<circle cx="177.02" cy="496.55" r="1.3" fill="#dab23e"/>
<circle cx="216.1" cy="523.7" r="1.3" fill="#dab23e"/>
<circle cx="151.16" cy="499.63" r="1.3" fill="#dab23e"/>
<circle cx="81.04" cy="499.61" r="1.3" fill="#dab23e"/>
<circle cx="129.31" cy="489.01" r="1.3" fill="#dab23e"/>
<circle cx="93.7" cy="526.6" r="1.3" fill="#dab23e"/>
<circle cx="136.73" cy="487.79" r="1.3" fill="#dab23e"/>
<circle cx="159.59" cy="483.36" r="1.3" fill="#dab23e"/>
<circle cx="79.4" cy="491.2" r="1.3" fill="#73748e"/>
<circle cx="67.03" cy="494.82" r="1.3" fill="#dab23e"/>
<circle cx="179.59" cy="505.95" r="1.3" fill="#dab23e"/>
<circle cx="103.86" cy="499" r="1.3" fill="#dab23e"/>
<circle cx="184.94" cy="507.91" r="1.3" fill="#dab23e"/>
<circle cx="110" cy="512" r="1.3" fill="#dab23e"/>
<circle cx="163" cy="533.8" r="1.3" fill="#dab23e"/>
<circle cx="174.44" cy="483.87" r="1.3" fill="#73748e"/>
<circle cx="118.24" cy="498.24" r="1.3" fill="#dab23e"/>
<circle cx="76.54" cy="494.04" r="1.3" fill="#dab23e"/>
<circle cx="133.25" cy="491.82" r="1.3" fill="#dab23e"/>
<circle cx="183.8" cy="483.8" r="1.3" fill="#dab23e"/>
<circle cx="154.59" cy="494.05" r="1.3" fill="#dab23e"/>
<circle cx="94.63" cy="494.27" r="1.3" fill="#dab23e"/>
<circle cx="77.48" cy="489.95" r="1.3" fill="#73748e"/>
<circle cx="68.8" cy="497" r="1.3" fill="#73748e"/>
<circle cx="147.7" cy="478.1" r="1.3" fill="#73748e"/>
<circle cx="99.69" cy="491.18" r="1.3" fill="#dab23e"/>
<circle cx="378.89" cy="491.81" r="1.3" fill="#73748e"/>
<circle cx="391.33" cy="505.1" r="1.3" fill="#dab23e"/>
<circle cx="393.31" cy="495.99" r="1.3" fill="#dab23e"/>
<circle cx="376.26" cy="500.08" r="1.3" fill="#dab23e"/>
<circle cx="392.51" cy="491.13" r="1.3" fill="#dab23e"/>
<circle cx="388.63" cy="503.55" r="1.3" fill="#dab23e"/>
<circle cx="394.94" cy="479.62" r="1.3" fill="#73748e"/>
<circle cx="387.14" cy="491.72" r="1.3" fill="#73748e"/>
<circle cx="385.32" cy="492.85" r="1.3" fill="#73748e"/>
<circle cx="390.41" cy="502.93" r="1.3" fill="#dab23e"/>
<circle cx="368.1" cy="496.3" r="1.3" fill="#73748e"/>
<circle cx="396.51" cy="489.97" r="1.3" fill="#73748e"/>
<circle cx="392.65" cy="497.23" r="1.3" fill="#dab23e"/>
<circle cx="383.5" cy="469.4" r="1.3" fill="#dab23e"/>
<circle cx="386.32" cy="508.83" r="1.3" fill="#dab23e"/>
<circle cx="396" cy="475.2" r="1.3" fill="#73748e"/>
<circle cx="388.3" cy="501.41" r="1.3" fill="#dab23e"/>
<circle cx="391.25" cy="535.5" r="1.3" fill="#dab23e"/>
<circle cx="381.73" cy="491.37" r="1.3" fill="#dab23e"/>
<circle cx="382.13" cy="492.45" r="1.3" fill="#dab23e"/>
<circle cx="427.7" cy="495.4" r="1.3" fill="#dab23e"/>
<circle cx="384.58" cy="494.74" r="1.3" fill="#dab23e"/>
<circle cx="383.14" cy="516.67" r="1.3" fill="#dab23e"/>
<circle cx="378.5" cy="485.98" r="1.3" fill="#dab23e"/>
<circle cx="396.32" cy="493.02" r="1.3" fill="#dab23e"/>
<circle cx="395.1" cy="483.2" r="1.3" fill="#dab23e"/>
<circle cx="421" cy="494.4" r="1.3" fill="#dab23e"/>
<circle cx="362.5" cy="477.5" r="1.3" fill="#73748e"/>
<circle cx="402.91" cy="511.19" r="1.3" fill="#dab23e"/>
<circle cx="396.69" cy="509.2" r="1.3" fill="#dab23e"/>
<circle cx="398.49" cy="488.41" r="1.3" fill="#dab23e"/>
<circle cx="399.79" cy="487.6" r="1.3" fill="#dab23e"/>
<circle cx="403.41" cy="494.52" r="1.3" fill="#dab23e"/>
<circle cx="393.28" cy="496.47" r="1.3" fill="#dab23e"/>
<circle cx="390.35" cy="510.01" r="1.3" fill="#dab23e"/>
<circle cx="390.86" cy="484.68" r="1.3" fill="#73748e"/>
<circle cx="385.79" cy="489" r="1.3" fill="#73748e"/>
<circle cx="376.77" cy="488.89" r="1.3" fill="#dab23e"/>
<circle cx="404.23" cy="506.38" r="1.3" fill="#dab23e"/>
<circle cx="384.94" cy="491.03" r="1.3" fill="#dab23e"/>
<circle cx="384.94" cy="510.01" r="1.3" fill="#dab23e"/>
<circle cx="387.82" cy="497.57" r="1.3" fill="#dab23e"/>
<circle cx="380.21" cy="502.66" r="1.3" fill="#dab23e"/>
<circle cx="392.43" cy="499.32" r="1.3" fill="#dab23e"/>
<circle cx="390.93" cy="497.72" r="1.3" fill="#73748e"/>
<circle cx="391.75" cy="491.53" r="1.3" fill="#dab23e"/>
<circle cx="376.25" cy="527" r="1.3" fill="#dab23e"/>
<circle cx="364.2" cy="512.3" r="1.3" fill="#dab23e"/>
<circle cx="400.27" cy="499.15" r="1.3" fill="#dab23e"/>
<circle cx="360.4" cy="507" r="1.3" fill="#dab23e"/>
<circle cx="392.19" cy="487.74" r="1.3" fill="#dab23e"/>
<circle cx="398.36" cy="492.72" r="1.3" fill="#dab23e"/>
<circle cx="410.49" cy="496.61" r="1.3" fill="#dab23e"/>
<circle cx="390.21" cy="491.84" r="1.3" fill="#dab23e"/>
<circle cx="398.8" cy="479" r="1.3" fill="#73748e"/>
<circle cx="383.5" cy="518.5" r="1.3" fill="#dab23e"/>
<circle cx="400.6" cy="512.83" r="1.3" fill="#dab23e"/>
<circle cx="386.85" cy="479.98" r="1.3" fill="#73748e"/>
<circle cx="382.39" cy="493.05" r="1.3" fill="#dab23e"/>
<circle cx="392.81" cy="493.67" r="1.3" fill="#dab23e"/>
<circle cx="404.65" cy="497.28" r="1.3" fill="#dab23e"/>
<circle cx="390.18" cy="494.46" r="1.3" fill="#dab23e"/>
<circle cx="405.74" cy="497.61" r="1.3" fill="#dab23e"/>
<circle cx="387.12" cy="480.9" r="1.3" fill="#dab23e"/>
<circle cx="402.7" cy="510.8" r="1.3" fill="#dab23e"/>
<circle cx="415.2" cy="518.5" r="1.3" fill="#dab23e"/>
<circle cx="367.1" cy="481.9" r="1.3" fill="#dab23e"/>
<circle cx="397.74" cy="485.8" r="1.3" fill="#dab23e"/>
<circle cx="389.33" cy="497.57" r="1.3" fill="#dab23e"/>
<circle cx="392.86" cy="490.96" r="1.3" fill="#73748e"/>
<circle cx="370.75" cy="524.5" r="1.3" fill="#dab23e"/>
<circle cx="390.84" cy="482.83" r="1.3" fill="#dab23e"/>
<circle cx="416.38" cy="488.49" r="1.3" fill="#dab23e"/>
<circle cx="428.75" cy="538.25" r="1.3" fill="#dab23e"/>
<circle cx="386.27" cy="493.06" r="1.3" fill="#dab23e"/>
<circle cx="407.61" cy="504.83" r="1.3" fill="#dab23e"/>
<circle cx="392.09" cy="492.79" r="1.3" fill="#73748e"/>
<circle cx="379.36" cy="496.26" r="1.3" fill="#dab23e"/>
<circle cx="396.85" cy="503.39" r="1.3" fill="#dab23e"/>
<circle cx="392.55" cy="489.05" r="1.3" fill="#dab23e"/>
<circle cx="380.6" cy="523.3" r="1.3" fill="#73748e"/>
<circle cx="402.7" cy="476.2" r="1.3" fill="#73748e"/>
<circle cx="388.26" cy="486.94" r="1.3" fill="#73748e"/>
<circle cx="388.81" cy="489.64" r="1.3" fill="#dab23e"/>
<circle cx="387.7" cy="463.7" r="1.3" fill="#73748e"/>
<circle cx="363.3" cy="477.1" r="1.3" fill="#73748e"/>
<circle cx="392.28" cy="482.35" r="1.3" fill="#dab23e"/>
<circle cx="397.51" cy="481.94" r="1.3" fill="#dab23e"/>
<circle cx="391.22" cy="489.64" r="1.3" fill="#73748e"/>
<circle cx="393.36" cy="493.59" r="1.3" fill="#dab23e"/>
<circle cx="385.03" cy="501.28" r="1.3" fill="#dab23e"/>
<circle cx="381.57" cy="487.55" r="1.3" fill="#73748e"/>
<circle cx="395.4" cy="493.13" r="1.3" fill="#dab23e"/>
<circle cx="389.49" cy="497.09" r="1.3" fill="#dab23e"/>
<circle cx="403.75" cy="530" r="1.3" fill="#73748e"/>
<circle cx="382.05" cy="489.59" r="1.3" fill="#dab23e"/>
<circle cx="391.38" cy="505.58" r="1.3" fill="#dab23e"/>
<circle cx="402.7" cy="526.2" r="1.3" fill="#dab23e"/>
<circle cx="394.08" cy="479.7" r="1.3" fill="#dab23e"/>
<circle cx="399.51" cy="498.36" r="1.3" fill="#73748e"/>
<circle cx="387.21" cy="498.31" r="1.3" fill="#73748e"/>
<circle cx="389.73" cy="506.64" r="1.3" fill="#dab23e"/>
<circle cx="388.11" cy="491.67" r="1.3" fill="#73748e"/>
<circle cx="391.87" cy="502.88" r="1.3" fill="#dab23e"/>
<circle cx="390.52" cy="501.77" r="1.3" fill="#dab23e"/>
<circle cx="388.15" cy="495" r="1.3" fill="#dab23e"/>
<circle cx="352.3" cy="524.6" r="1.3" fill="#dab23e"/>
<circle cx="403.7" cy="530" r="1.3" fill="#73748e"/>
<circle cx="356.2" cy="507" r="1.3" fill="#73748e"/>
<circle cx="409.09" cy="499.5" r="1.3" fill="#dab23e"/>
<circle cx="379.33" cy="497.37" r="1.3" fill="#dab23e"/>
<circle cx="376.7" cy="527.1" r="1.3" fill="#dab23e"/>
<circle cx="394.63" cy="503.1" r="1.3" fill="#dab23e"/>
<circle cx="407.92" cy="510.08" r="1.3" fill="#dab23e"/>
<circle cx="448" cy="507" r="1.3" fill="#dab23e"/>
<circle cx="383.11" cy="491.82" r="1.3" fill="#dab23e"/>
<circle cx="365" cy="512.5" r="1.3" fill="#dab23e"/>
<circle cx="413.3" cy="490.6" r="1.3" fill="#73748e"/>
<circle cx="394.64" cy="499.45" r="1.3" fill="#dab23e"/>
<circle cx="381.66" cy="494.26" r="1.3" fill="#dab23e"/>
<circle cx="417.19" cy="502.95" r="1.3" fill="#dab23e"/>
<circle cx="388" cy="506.87" r="1.3" fill="#dab23e"/>
<circle cx="446.6" cy="481.3" r="1.3" fill="#dab23e"/>
<circle cx="395.21" cy="517.17" r="1.3" fill="#dab23e"/>
<circle cx="385.14" cy="489.66" r="1.3" fill="#73748e"/>
<circle cx="393.95" cy="498.42" r="1.3" fill="#dab23e"/>
<circle cx="413.75" cy="544.25" r="1.3" fill="#dab23e"/>
<circle cx="384.12" cy="485.68" r="1.3" fill="#73748e"/>
<circle cx="424.73" cy="504.51" r="1.3" fill="#dab23e"/>
<circle cx="400.09" cy="493.17" r="1.3" fill="#dab23e"/>
<circle cx="418.1" cy="510.8" r="1.3" fill="#dab23e"/>
<circle cx="390.86" cy="478" r="1.3" fill="#dab23e"/>
<circle cx="400.73" cy="490.55" r="1.3" fill="#dab23e"/>
<circle cx="380.88" cy="490.59" r="1.3" fill="#dab23e"/>
<circle cx="392.7" cy="463.1" r="1.3" fill="#73748e"/>
<circle cx="384.26" cy="487.59" r="1.3" fill="#dab23e"/>
<circle cx="381.82" cy="491.39" r="1.3" fill="#73748e"/>
<circle cx="415.79" cy="501.51" r="1.3" fill="#dab23e"/>
<circle cx="394.79" cy="496.41" r="1.3" fill="#dab23e"/>
<circle cx="387.27" cy="490.24" r="1.3" fill="#dab23e"/>
<circle cx="392" cy="529.5" r="1.3" fill="#dab23e"/>
<circle cx="390.56" cy="489.09" r="1.3" fill="#dab23e"/>
<circle cx="387.06" cy="498.03" r="1.3" fill="#dab23e"/>
<circle cx="388.7" cy="500.34" r="1.3" fill="#dab23e"/>
<circle cx="403.35" cy="492.85" r="1.3" fill="#dab23e"/>
<circle cx="474.5" cy="549.5" r="1.3" fill="#73748e"/>
<circle cx="392.45" cy="492.08" r="1.3" fill="#dab23e"/>
<circle cx="388.76" cy="491.21" r="1.3" fill="#dab23e"/>
<circle cx="409.5" cy="535" r="1.3" fill="#dab23e"/>
<circle cx="387.69" cy="492.89" r="1.3" fill="#73748e"/>
<circle cx="403.26" cy="513.38" r="1.3" fill="#dab23e"/>
<circle cx="390.02" cy="498.96" r="1.3" fill="#dab23e"/>
<circle cx="400.14" cy="500.94" r="1.3" fill="#dab23e"/>
<circle cx="397.1" cy="481.57" r="1.3" fill="#dab23e"/>
<circle cx="410.5" cy="525.5" r="1.3" fill="#dab23e"/>
<circle cx="391.22" cy="493.85" r="1.3" fill="#dab23e"/>
<circle cx="393.1" cy="530" r="1.3" fill="#dab23e"/>
<circle cx="393.75" cy="496.12" r="1.3" fill="#dab23e"/>
<circle cx="391.27" cy="499.73" r="1.3" fill="#dab23e"/>
<circle cx="383.97" cy="493.15" r="1.3" fill="#dab23e"/>
<circle cx="386.55" cy="501.08" r="1.3" fill="#dab23e"/>
<circle cx="391.18" cy="488.5" r="1.3" fill="#dab23e"/>
<circle cx="408.41" cy="494.44" r="1.3" fill="#dab23e"/>
<circle cx="360" cy="507.5" r="1.3" fill="#dab23e"/>
<circle cx="390.25" cy="499.71" r="1.3" fill="#dab23e"/>
<circle cx="403.6" cy="488.4" r="1.3" fill="#dab23e"/>
<circle cx="389.02" cy="488.71" r="1.3" fill="#73748e"/>
<circle cx="420" cy="495.4" r="1.3" fill="#73748e"/>
<circle cx="390.3" cy="489.17" r="1.3" fill="#dab23e"/>
<circle cx="380.6" cy="507.9" r="1.3" fill="#73748e"/>
<circle cx="390.59" cy="494.12" r="1.3" fill="#dab23e"/>
<circle cx="383.48" cy="483.17" r="1.3" fill="#73748e"/>
<circle cx="394.37" cy="485.98" r="1.3" fill="#dab23e"/>
<circle cx="391.23" cy="497.94" r="1.3" fill="#dab23e"/>
<circle cx="383.35" cy="491.61" r="1.3" fill="#dab23e"/>
<circle cx="393.98" cy="487.01" r="1.3" fill="#dab23e"/>
<circle cx="427.7" cy="526.5" r="1.3" fill="#dab23e"/>
<circle cx="400.62" cy="496.09" r="1.3" fill="#dab23e"/>
<circle cx="411.02" cy="510.14" r="1.3" fill="#dab23e"/>
<circle cx="389.68" cy="501.55" r="1.3" fill="#dab23e"/>
<circle cx="395.27" cy="478.75" r="1.3" fill="#dab23e"/>
<circle cx="414.2" cy="502.1" r="1.3" fill="#73748e"/>
<circle cx="397.6" cy="480.46" r="1.3" fill="#73748e"/>
<circle cx="391.6" cy="492.99" r="1.3" fill="#dab23e"/>
<circle cx="390.11" cy="495.22" r="1.3" fill="#dab23e"/>
<circle cx="388.77" cy="489.56" r="1.3" fill="#dab23e"/>
<circle cx="390.36" cy="495.74" r="1.3" fill="#dab23e"/>
<circle cx="382.63" cy="494.22" r="1.3" fill="#73748e"/>
<circle cx="393.86" cy="499.12" r="1.3" fill="#dab23e"/>
<circle cx="408.5" cy="489.6" r="1.3" fill="#73748e"/>
<circle cx="390.52" cy="494.4" r="1.3" fill="#dab23e"/>
<circle cx="408.5" cy="512.7" r="1.3" fill="#dab23e"/>
<circle cx="387.3" cy="521.3" r="1.3" fill="#dab23e"/>
<circle cx="396.56" cy="490.22" r="1.3" fill="#dab23e"/>
<circle cx="389.58" cy="490.57" r="1.3" fill="#73748e"/>
<circle cx="387.05" cy="488.87" r="1.3" fill="#dab23e"/>
<circle cx="388.89" cy="478.56" r="1.3" fill="#dab23e"/>
<circle cx="412.3" cy="506.9" r="1.3" fill="#dab23e"/>
<circle cx="381.91" cy="502.54" r="1.3" fill="#73748e"/>
<circle cx="389.99" cy="489.15" r="1.3" fill="#73748e"/>
<circle cx="409.24" cy="502.08" r="1.3" fill="#dab23e"/>
<circle cx="402.48" cy="497.6" r="1.3" fill="#dab23e"/>
<circle cx="392.47" cy="487.55" r="1.3" fill="#dab23e"/>
<circle cx="411.3" cy="465" r="1.3" fill="#73748e"/>
<circle cx="386.15" cy="495.28" r="1.3" fill="#dab23e"/>
<circle cx="379.86" cy="500.99" r="1.3" fill="#dab23e"/>
<circle cx="366.2" cy="485.8" r="1.3" fill="#73748e"/>
<circle cx="394.25" cy="496.21" r="1.3" fill="#dab23e"/>
<circle cx="382.45" cy="483.01" r="1.3" fill="#dab23e"/>
<circle cx="420.75" cy="528" r="1.3" fill="#dab23e"/>
<circle cx="396" cy="525.2" r="1.3" fill="#dab23e"/>
<circle cx="398.82" cy="489.97" r="1.3" fill="#dab23e"/>
<circle cx="376.7" cy="508.8" r="1.3" fill="#73748e"/>
<circle cx="393.61" cy="501.59" r="1.3" fill="#dab23e"/>
<circle cx="395.58" cy="487.44" r="1.3" fill="#dab23e"/>
<circle cx="401.92" cy="519.38" r="1.3" fill="#dab23e"/>
<circle cx="382.87" cy="489.76" r="1.3" fill="#dab23e"/>
<circle cx="382.65" cy="496.53" r="1.3" fill="#dab23e"/>
<circle cx="397.2" cy="498.6" r="1.3" fill="#dab23e"/>
<circle cx="355" cy="481" r="1.3" fill="#dab23e"/>
<circle cx="393.2" cy="502.17" r="1.3" fill="#dab23e"/>
<circle cx="405.54" cy="482.04" r="1.3" fill="#dab23e"/>
<circle cx="432" cy="506" r="1.3" fill="#dab23e"/>
<circle cx="389.63" cy="488.72" r="1.3" fill="#73748e"/>
<circle cx="380.15" cy="488.65" r="1.3" fill="#dab23e"/>
<circle cx="387.23" cy="495.44" r="1.3" fill="#73748e"/>
<circle cx="387.45" cy="494.66" r="1.3" fill="#73748e"/>
<circle cx="393.1" cy="475.2" r="1.3" fill="#73748e"/>
<circle cx="393.81" cy="499.29" r="1.3" fill="#dab23e"/>
<circle cx="384.94" cy="483.33" r="1.3" fill="#73748e"/>
<circle cx="385" cy="531.75" r="1.3" fill="#dab23e"/>
<circle cx="394.6" cy="500.94" r="1.3" fill="#dab23e"/>
<circle cx="386.46" cy="488.78" r="1.3" fill="#73748e"/>
<circle cx="398.24" cy="517.23" r="1.3" fill="#dab23e"/>
<circle cx="390.24" cy="499.26" r="1.3" fill="#dab23e"/>
<circle cx="427.7" cy="516.2" r="1.3" fill="#dab23e"/>
<circle cx="389.86" cy="500.42" r="1.3" fill="#73748e"/>
<circle cx="400.9" cy="501.08" r="1.3" fill="#dab23e"/>
<circle cx="382.73" cy="487.73" r="1.3" fill="#73748e"/>
<circle cx="393.24" cy="491.7" r="1.3" fill="#dab23e"/>
<circle cx="387.59" cy="489.3" r="1.3" fill="#dab23e"/>
<circle cx="385.63" cy="489.64" r="1.3" fill="#73748e"/>
<circle cx="366.2" cy="500.2" r="1.3" fill="#73748e"/>
<circle cx="398.75" cy="524.5" r="1.3" fill="#dab23e"/>
<circle cx="378.25" cy="494.77" r="1.3" fill="#dab23e"/>
<circle cx="395" cy="525.5" r="1.3" fill="#dab23e"/>
<circle cx="381.59" cy="493.76" r="1.3" fill="#dab23e"/>
<circle cx="442.1" cy="507.9" r="1.3" fill="#dab23e"/>
<circle cx="381.92" cy="503.07" r="1.3" fill="#dab23e"/>
<circle cx="396.5" cy="497.42" r="1.3" fill="#dab23e"/>
<circle cx="391.96" cy="511.65" r="1.3" fill="#dab23e"/>
<circle cx="380" cy="523.75" r="1.3" fill="#73748e"/>
<circle cx="398.3" cy="507.3" r="1.3" fill="#dab23e"/>
<circle cx="390.17" cy="489.11" r="1.3" fill="#dab23e"/>
<circle cx="410.4" cy="521.3" r="1.3" fill="#dab23e"/>
<circle cx="371.9" cy="504" r="1.3" fill="#73748e"/>
<circle cx="384.91" cy="501.92" r="1.3" fill="#dab23e"/>
<circle cx="427.5" cy="526.25" r="1.3" fill="#dab23e"/>
<circle cx="401.26" cy="482.65" r="1.3" fill="#dab23e"/>
<circle cx="416.26" cy="506.09" r="1.3" fill="#dab23e"/>
<circle cx="395.07" cy="488.83" r="1.3" fill="#dab23e"/>
<circle cx="403.18" cy="498.84" r="1.3" fill="#dab23e"/>
<circle cx="387.44" cy="489.9" r="1.3" fill="#dab23e"/>
<circle cx="334.5" cy="567" r="1.3" fill="#73748e"/>
<circle cx="438" cy="538.75" r="1.3" fill="#dab23e"/>
<circle cx="394.42" cy="490.08" r="1.3" fill="#73748e"/>
<circle cx="397.85" cy="483.16" r="1.3" fill="#dab23e"/>
<circle cx="383.08" cy="497.33" r="1.3" fill="#dab23e"/>
<circle cx="383.86" cy="495.26" r="1.3" fill="#73748e"/>
<circle cx="400.77" cy="507.44" r="1.3" fill="#dab23e"/>
<circle cx="396.51" cy="488.01" r="1.3" fill="#dab23e"/>
<circle cx="389.37" cy="491" r="1.3" fill="#dab23e"/>
<circle cx="404.6" cy="516.5" r="1.3" fill="#dab23e"/>
<circle cx="390.94" cy="509.04" r="1.3" fill="#dab23e"/>
<circle cx="387.84" cy="499.91" r="1.3" fill="#dab23e"/>
<circle cx="360.4" cy="489.2" r="1.3" fill="#73748e"/>
<circle cx="399.31" cy="509.01" r="1.3" fill="#dab23e"/>
<circle cx="385.45" cy="486.11" r="1.3" fill="#73748e"/>
<circle cx="389.44" cy="489.36" r="1.3" fill="#dab23e"/>
<circle cx="411.9" cy="481.9" r="1.3" fill="#dab23e"/>
<circle cx="388.8" cy="486.8" r="1.3" fill="#73748e"/>
<circle cx="373.48" cy="487.99" r="1.3" fill="#73748e"/>
<circle cx="393.99" cy="504.13" r="1.3" fill="#dab23e"/>
<circle cx="357.5" cy="494.4" r="1.3" fill="#dab23e"/>
<circle cx="401.82" cy="517.76" r="1.3" fill="#dab23e"/>
<circle cx="390.22" cy="508.7" r="1.3" fill="#dab23e"/>
<circle cx="412.06" cy="504.98" r="1.3" fill="#dab23e"/>
<circle cx="389.44" cy="492.28" r="1.3" fill="#73748e"/>
<circle cx="381.94" cy="496.7" r="1.3" fill="#dab23e"/>
<circle cx="379.99" cy="496.89" r="1.3" fill="#dab23e"/>
<circle cx="404.29" cy="513.05" r="1.3" fill="#dab23e"/>
<circle cx="378.7" cy="516.9" r="1.3" fill="#dab23e"/>
<circle cx="390.33" cy="497" r="1.3" fill="#dab23e"/>
<circle cx="358" cy="493.75" r="1.3" fill="#dab23e"/>
<circle cx="393.07" cy="495.74" r="1.3" fill="#dab23e"/>
<circle cx="393.38" cy="494.09" r="1.3" fill="#dab23e"/>
<circle cx="381.37" cy="475.64" r="1.3" fill="#dab23e"/>
<circle cx="381.15" cy="505.67" r="1.3" fill="#dab23e"/>
<circle cx="389.66" cy="497.6" r="1.3" fill="#dab23e"/>
<circle cx="415.15" cy="515.09" r="1.3" fill="#dab23e"/>
<circle cx="388.72" cy="501.43" r="1.3" fill="#dab23e"/>
<circle cx="406.5" cy="506" r="1.3" fill="#dab23e"/>
<circle cx="389.84" cy="496.76" r="1.3" fill="#73748e"/>
<circle cx="393.84" cy="504.31" r="1.3" fill="#dab23e"/>
<circle cx="429.6" cy="527.7" r="1.3" fill="#dab23e"/>
<circle cx="384.43" cy="498.78" r="1.3" fill="#dab23e"/>
<circle cx="388.62" cy="497.25" r="1.3" fill="#dab23e"/>
<circle cx="384.08" cy="500.18" r="1.3" fill="#dab23e"/>
<circle cx="386.84" cy="504.2" r="1.3" fill="#dab23e"/>
<circle cx="388.84" cy="508.63" r="1.3" fill="#dab23e"/>
<circle cx="396.39" cy="473.12" r="1.3" fill="#dab23e"/>
<circle cx="390.31" cy="483.26" r="1.3" fill="#dab23e"/>
<circle cx="395.07" cy="495.57" r="1.3" fill="#dab23e"/>
<circle cx="419.5" cy="532.5" r="1.3" fill="#dab23e"/>
<circle cx="390.43" cy="503.9" r="1.3" fill="#dab23e"/>
<circle cx="394.64" cy="490.03" r="1.3" fill="#dab23e"/>
<circle cx="392.04" cy="494.55" r="1.3" fill="#dab23e"/>
<circle cx="397.9" cy="469.4" r="1.3" fill="#73748e"/>
<circle cx="387.3" cy="481.05" r="1.3" fill="#dab23e"/>
<circle cx="356.25" cy="506.25" r="1.3" fill="#73748e"/>
<circle cx="391.44" cy="499.33" r="1.3" fill="#dab23e"/>
<circle cx="395.75" cy="555.75" r="1.3" fill="#dab23e"/>
<circle cx="385.86" cy="509.17" r="1.3" fill="#dab23e"/>
<circle cx="413.12" cy="513.08" r="1.3" fill="#dab23e"/>
<circle cx="381.15" cy="500.54" r="1.3" fill="#73748e"/>
<circle cx="386.19" cy="490.78" r="1.3" fill="#dab23e"/>
<circle cx="389.65" cy="485.23" r="1.3" fill="#dab23e"/>
<circle cx="409.94" cy="492.79" r="1.3" fill="#dab23e"/>
<circle cx="390.92" cy="500.29" r="1.3" fill="#dab23e"/>
<circle cx="382.06" cy="490.15" r="1.3" fill="#dab23e"/>
<circle cx="446.6" cy="518.5" r="1.3" fill="#dab23e"/>
<circle cx="399.71" cy="504.23" r="1.3" fill="#dab23e"/>
<circle cx="379.41" cy="487.46" r="1.3" fill="#dab23e"/>
<circle cx="394.19" cy="492.94" r="1.3" fill="#dab23e"/>
<circle cx="408.75" cy="531.25" r="1.3" fill="#dab23e"/>
<circle cx="399.42" cy="496.16" r="1.3" fill="#73748e"/>
<circle cx="385.93" cy="493.42" r="1.3" fill="#dab23e"/>
<circle cx="387.27" cy="491.68" r="1.3" fill="#dab23e"/>
<circle cx="420.4" cy="519.4" r="1.3" fill="#dab23e"/>
<circle cx="388.3" cy="512.7" r="1.3" fill="#73748e"/>
<circle cx="399.38" cy="506.9" r="1.3" fill="#dab23e"/>
<circle cx="385.14" cy="497.52" r="1.3" fill="#dab23e"/>
<circle cx="395.94" cy="512.68" r="1.3" fill="#dab23e"/>
<circle cx="392.32" cy="503.61" r="1.3" fill="#73748e"/>
<circle cx="391.31" cy="496.09" r="1.3" fill="#dab23e"/>
<circle cx="371" cy="523.8" r="1.3" fill="#dab23e"/>
<circle cx="393.28" cy="491.83" r="1.3" fill="#73748e"/>
<circle cx="397.62" cy="499.8" r="1.3" fill="#dab23e"/>
<circle cx="391.79" cy="492.18" r="1.3" fill="#73748e"/>
<circle cx="393.22" cy="502.35" r="1.3" fill="#dab23e"/>
<circle cx="388.03" cy="492.14" r="1.3" fill="#dab23e"/>
<circle cx="443" cy="507.6" r="1.3" fill="#dab23e"/>
<circle cx="387.32" cy="493.89" r="1.3" fill="#dab23e"/>
<circle cx="398.57" cy="489.12" r="1.3" fill="#dab23e"/>
<circle cx="413.3" cy="489.2" r="1.3" fill="#dab23e"/>
<circle cx="390.96" cy="482.25" r="1.3" fill="#73748e"/>
<circle cx="391.94" cy="486.13" r="1.3" fill="#dab23e"/>
<circle cx="404.6" cy="482.9" r="1.3" fill="#73748e"/>
<circle cx="369" cy="492.5" r="1.3" fill="#73748e"/>
<circle cx="389.3" cy="493.06" r="1.3" fill="#dab23e"/>
<circle cx="396.5" cy="499.99" r="1.3" fill="#dab23e"/>
<circle cx="378.62" cy="494.01" r="1.3" fill="#dab23e"/>
<circle cx="385.87" cy="498.67" r="1.3" fill="#dab23e"/>
<circle cx="403.92" cy="497.18" r="1.3" fill="#dab23e"/>
<circle cx="388.12" cy="493.38" r="1.3" fill="#dab23e"/>
<circle cx="401.17" cy="507.11" r="1.3" fill="#dab23e"/>
<circle cx="386.13" cy="495.74" r="1.3" fill="#73748e"/>
<circle cx="389.95" cy="481.28" r="1.3" fill="#dab23e"/>
<circle cx="392.6" cy="497.23" r="1.3" fill="#dab23e"/>
<circle cx="371.25" cy="525.5" r="1.3" fill="#dab23e"/>
<circle cx="438.91" cy="516.96" r="1.3" fill="#dab23e"/>
<circle cx="385.44" cy="492.36" r="1.3" fill="#dab23e"/>
<circle cx="398" cy="497.04" r="1.3" fill="#dab23e"/>
<circle cx="430.71" cy="522.56" r="1.3" fill="#dab23e"/>
<circle cx="390.63" cy="501.53" r="1.3" fill="#dab23e"/>
<circle cx="398.8" cy="515.6" r="1.3" fill="#dab23e"/>
<circle cx="398.59" cy="492.82" r="1.3" fill="#dab23e"/>
<circle cx="392.04" cy="488.77" r="1.3" fill="#dab23e"/>
<circle cx="393.21" cy="502.68" r="1.3" fill="#dab23e"/>
<circle cx="394.77" cy="484.52" r="1.3" fill="#dab23e"/>
<circle cx="397.77" cy="494.39" r="1.3" fill="#dab23e"/>
<circle cx="390.33" cy="486.67" r="1.3" fill="#dab23e"/>
<circle cx="386.83" cy="506.98" r="1.3" fill="#dab23e"/>
<circle cx="384.86" cy="501.36" r="1.3" fill="#dab23e"/>
<circle cx="399.91" cy="516.64" r="1.3" fill="#dab23e"/>
<circle cx="398.91" cy="514.13" r="1.3" fill="#dab23e"/>
</svg>
</body></html>
